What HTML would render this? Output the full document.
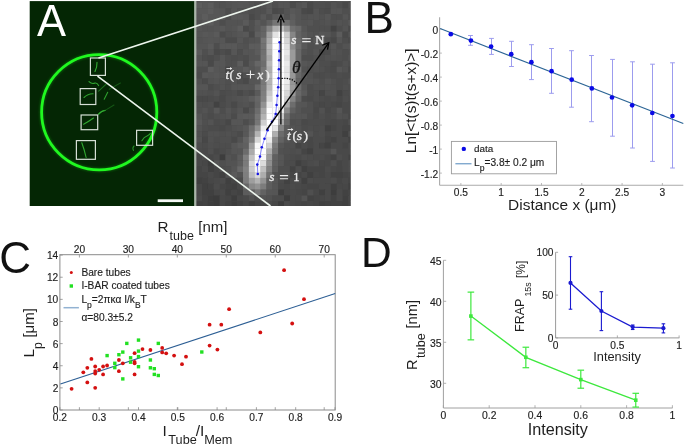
<!DOCTYPE html><html><head><meta charset="utf-8"><style>html,body{margin:0;padding:0;background:#fff;overflow:hidden}svg{display:block;will-change:transform}text{font-family:"Liberation Sans",sans-serif}</style></head><body>
<svg width="685" height="445" viewBox="0 0 685 445">
<defs><filter id="blur2" x="-50%" y="-50%" width="200%" height="200%"><feGaussianBlur stdDeviation="1.2"/></filter><filter id="blur3" x="-50%" y="-50%" width="200%" height="200%"><feGaussianBlur stdDeviation="3"/></filter><filter id="soft" x="0" y="0" width="100%" height="100%"><feGaussianBlur stdDeviation="0.7"/></filter><filter id="blur6" x="-50%" y="-50%" width="200%" height="200%"><feGaussianBlur stdDeviation="6"/></filter></defs>
<rect width="685" height="445" fill="#fff"/>
<rect x="29.7" y="1.1" width="164.8" height="204.9" fill="#042604"/>
<path d="M89,81.6 Q92,84.5 95,83 Q97,82.5 98.6,85.6" stroke="#3cc83c" stroke-width="1.1" fill="none" stroke-linecap="round" opacity="0.8"/>
<path d="M98.6,91.2 L106.2,84.1" stroke="#3cc83c" stroke-width="1.1" fill="none" stroke-linecap="round" opacity="0.45"/>
<path d="M104.2,99.3 L107.7,92.2" stroke="#3cc83c" stroke-width="1.1" fill="none" stroke-linecap="round" opacity="0.75"/>
<path d="M109.2,89.2 L120.4,83.1" stroke="#3cc83c" stroke-width="1.1" fill="none" stroke-linecap="round" opacity="0.3"/>
<path d="M98.6,114.4 Q101,111 105.2,110.4" stroke="#3cc83c" stroke-width="1.1" fill="none" stroke-linecap="round" opacity="0.7"/>
<path d="M105.2,110.4 L114,105" stroke="#3cc83c" stroke-width="1.1" fill="none" stroke-linecap="round" opacity="0.3"/>
<path d="M84,97.5 Q88,93.5 93.1,93.7" stroke="#3cc83c" stroke-width="1.1" fill="none" stroke-linecap="round" opacity="0.75"/>
<path d="M83.6,124.2 Q88,122 93.5,118" stroke="#3cc83c" stroke-width="1.1" fill="none" stroke-linecap="round" opacity="0.8"/>
<path d="M98.5,113.7 L103.4,110.6" stroke="#3cc83c" stroke-width="1.1" fill="none" stroke-linecap="round" opacity="0.5"/>
<path d="M81.8,142.7 Q84.5,150 86.1,157.5" stroke="#3cc83c" stroke-width="1.1" fill="none" stroke-linecap="round" opacity="0.8"/>
<path d="M97,62.4 Q97.2,67 95,71.5" stroke="#3cc83c" stroke-width="1.1" fill="none" stroke-linecap="round" opacity="0.85"/>
<path d="M141.9,140.7 Q144,137 147,136 Q149,135 150.2,133.7" stroke="#3cc83c" stroke-width="1.1" fill="none" stroke-linecap="round" opacity="0.75"/>
<path d="M134,146 Q132,148 133.5,150.5" stroke="#3cc83c" stroke-width="1.1" fill="none" stroke-linecap="round" opacity="0.6"/>
<circle cx="99.2" cy="112.3" r="57.6" stroke="#1aff1a" stroke-width="4.5" fill="none" opacity="0.22" filter="url(#blur2)"/>
<circle cx="99.2" cy="112.3" r="57.6" stroke="#20f820" stroke-width="2.8" fill="none"/>
<rect x="90.4" y="58" width="15" height="17.4" stroke="#d6dfd6" stroke-width="1.2" fill="none"/>
<rect x="80.2" y="88.6" width="15.6" height="15.9" stroke="#d6dfd6" stroke-width="1.2" fill="none"/>
<rect x="81.1" y="115" width="16.6" height="14.7" stroke="#d6dfd6" stroke-width="1.2" fill="none"/>
<rect x="76.4" y="140.6" width="19" height="18.7" stroke="#d6dfd6" stroke-width="1.2" fill="none"/>
<rect x="136.6" y="130.3" width="16" height="15" stroke="#d6dfd6" stroke-width="1.2" fill="none"/>
<rect x="157.7" y="199.3" width="25.3" height="2.8" fill="#f4f8f4"/>
<text x="37.0" y="36.4" font-size="43.5" fill="#ffffff">A</text>
<rect x="194.5" y="1.1" width="1.7" height="204.9" fill="#a9b6a9"/>
<clipPath id="gclip"><rect x="196.2" y="1.1" width="154.6" height="204.9"/></clipPath>
<g clip-path="url(#gclip)" filter="url(#soft)">
<rect x="196.2" y="1.1" width="154.6" height="204.9" fill="#4c4c4c"/>
<rect x="196.20" y="-3.50" width="6.1" height="6.1" fill="rgb(85,85,85)"/>
<rect x="202.05" y="-3.50" width="6.1" height="6.1" fill="rgb(88,88,88)"/>
<rect x="207.90" y="-3.50" width="6.1" height="6.1" fill="rgb(85,85,85)"/>
<rect x="213.75" y="-3.50" width="6.1" height="6.1" fill="rgb(84,84,84)"/>
<rect x="219.60" y="-3.50" width="6.1" height="6.1" fill="rgb(81,81,81)"/>
<rect x="225.45" y="-3.50" width="6.1" height="6.1" fill="rgb(84,84,84)"/>
<rect x="231.30" y="-3.50" width="6.1" height="6.1" fill="rgb(90,90,90)"/>
<rect x="237.15" y="-3.50" width="6.1" height="6.1" fill="rgb(86,86,86)"/>
<rect x="243.00" y="-3.50" width="6.1" height="6.1" fill="rgb(89,89,89)"/>
<rect x="248.85" y="-3.50" width="6.1" height="6.1" fill="rgb(85,85,85)"/>
<rect x="254.70" y="-3.50" width="6.1" height="6.1" fill="rgb(85,85,85)"/>
<rect x="260.55" y="-3.50" width="6.1" height="6.1" fill="rgb(84,84,84)"/>
<rect x="266.40" y="-3.50" width="6.1" height="6.1" fill="rgb(76,76,76)"/>
<rect x="272.25" y="-3.50" width="6.1" height="6.1" fill="rgb(87,87,87)"/>
<rect x="278.10" y="-3.50" width="6.1" height="6.1" fill="rgb(85,85,85)"/>
<rect x="283.95" y="-3.50" width="6.1" height="6.1" fill="rgb(85,85,85)"/>
<rect x="289.80" y="-3.50" width="6.1" height="6.1" fill="rgb(75,75,75)"/>
<rect x="295.65" y="-3.50" width="6.1" height="6.1" fill="rgb(74,74,74)"/>
<rect x="301.50" y="-3.50" width="6.1" height="6.1" fill="rgb(78,78,78)"/>
<rect x="307.35" y="-3.50" width="6.1" height="6.1" fill="rgb(80,80,80)"/>
<rect x="313.20" y="-3.50" width="6.1" height="6.1" fill="rgb(83,83,83)"/>
<rect x="319.05" y="-3.50" width="6.1" height="6.1" fill="rgb(81,81,81)"/>
<rect x="324.90" y="-3.50" width="6.1" height="6.1" fill="rgb(83,83,83)"/>
<rect x="330.75" y="-3.50" width="6.1" height="6.1" fill="rgb(78,78,78)"/>
<rect x="336.60" y="-3.50" width="6.1" height="6.1" fill="rgb(82,82,82)"/>
<rect x="342.45" y="-3.50" width="6.1" height="6.1" fill="rgb(82,82,82)"/>
<rect x="348.30" y="-3.50" width="6.1" height="6.1" fill="rgb(77,77,77)"/>
<rect x="196.20" y="2.35" width="6.1" height="6.1" fill="rgb(93,93,93)"/>
<rect x="202.05" y="2.35" width="6.1" height="6.1" fill="rgb(88,88,88)"/>
<rect x="207.90" y="2.35" width="6.1" height="6.1" fill="rgb(91,91,91)"/>
<rect x="213.75" y="2.35" width="6.1" height="6.1" fill="rgb(82,82,82)"/>
<rect x="219.60" y="2.35" width="6.1" height="6.1" fill="rgb(81,81,81)"/>
<rect x="225.45" y="2.35" width="6.1" height="6.1" fill="rgb(83,83,83)"/>
<rect x="231.30" y="2.35" width="6.1" height="6.1" fill="rgb(84,84,84)"/>
<rect x="237.15" y="2.35" width="6.1" height="6.1" fill="rgb(87,87,87)"/>
<rect x="243.00" y="2.35" width="6.1" height="6.1" fill="rgb(85,85,85)"/>
<rect x="248.85" y="2.35" width="6.1" height="6.1" fill="rgb(82,82,82)"/>
<rect x="254.70" y="2.35" width="6.1" height="6.1" fill="rgb(79,79,79)"/>
<rect x="260.55" y="2.35" width="6.1" height="6.1" fill="rgb(81,81,81)"/>
<rect x="266.40" y="2.35" width="6.1" height="6.1" fill="rgb(88,88,88)"/>
<rect x="272.25" y="2.35" width="6.1" height="6.1" fill="rgb(79,79,79)"/>
<rect x="278.10" y="2.35" width="6.1" height="6.1" fill="rgb(84,84,84)"/>
<rect x="283.95" y="2.35" width="6.1" height="6.1" fill="rgb(84,84,84)"/>
<rect x="289.80" y="2.35" width="6.1" height="6.1" fill="rgb(75,75,75)"/>
<rect x="295.65" y="2.35" width="6.1" height="6.1" fill="rgb(82,82,82)"/>
<rect x="301.50" y="2.35" width="6.1" height="6.1" fill="rgb(87,87,87)"/>
<rect x="307.35" y="2.35" width="6.1" height="6.1" fill="rgb(72,72,72)"/>
<rect x="313.20" y="2.35" width="6.1" height="6.1" fill="rgb(80,80,80)"/>
<rect x="319.05" y="2.35" width="6.1" height="6.1" fill="rgb(80,80,80)"/>
<rect x="324.90" y="2.35" width="6.1" height="6.1" fill="rgb(77,77,77)"/>
<rect x="330.75" y="2.35" width="6.1" height="6.1" fill="rgb(83,83,83)"/>
<rect x="336.60" y="2.35" width="6.1" height="6.1" fill="rgb(80,80,80)"/>
<rect x="342.45" y="2.35" width="6.1" height="6.1" fill="rgb(73,73,73)"/>
<rect x="348.30" y="2.35" width="6.1" height="6.1" fill="rgb(83,83,83)"/>
<rect x="196.20" y="8.20" width="6.1" height="6.1" fill="rgb(88,88,88)"/>
<rect x="202.05" y="8.20" width="6.1" height="6.1" fill="rgb(89,89,89)"/>
<rect x="207.90" y="8.20" width="6.1" height="6.1" fill="rgb(91,91,91)"/>
<rect x="213.75" y="8.20" width="6.1" height="6.1" fill="rgb(86,86,86)"/>
<rect x="219.60" y="8.20" width="6.1" height="6.1" fill="rgb(85,85,85)"/>
<rect x="225.45" y="8.20" width="6.1" height="6.1" fill="rgb(78,78,78)"/>
<rect x="231.30" y="8.20" width="6.1" height="6.1" fill="rgb(87,87,87)"/>
<rect x="237.15" y="8.20" width="6.1" height="6.1" fill="rgb(81,81,81)"/>
<rect x="243.00" y="8.20" width="6.1" height="6.1" fill="rgb(81,81,81)"/>
<rect x="248.85" y="8.20" width="6.1" height="6.1" fill="rgb(78,78,78)"/>
<rect x="254.70" y="8.20" width="6.1" height="6.1" fill="rgb(79,79,79)"/>
<rect x="260.55" y="8.20" width="6.1" height="6.1" fill="rgb(80,80,80)"/>
<rect x="266.40" y="8.20" width="6.1" height="6.1" fill="rgb(88,88,88)"/>
<rect x="272.25" y="8.20" width="6.1" height="6.1" fill="rgb(73,73,73)"/>
<rect x="278.10" y="8.20" width="6.1" height="6.1" fill="rgb(76,76,76)"/>
<rect x="283.95" y="8.20" width="6.1" height="6.1" fill="rgb(83,83,83)"/>
<rect x="289.80" y="8.20" width="6.1" height="6.1" fill="rgb(88,88,88)"/>
<rect x="295.65" y="8.20" width="6.1" height="6.1" fill="rgb(84,84,84)"/>
<rect x="301.50" y="8.20" width="6.1" height="6.1" fill="rgb(73,73,73)"/>
<rect x="307.35" y="8.20" width="6.1" height="6.1" fill="rgb(70,70,70)"/>
<rect x="313.20" y="8.20" width="6.1" height="6.1" fill="rgb(82,82,82)"/>
<rect x="319.05" y="8.20" width="6.1" height="6.1" fill="rgb(77,77,77)"/>
<rect x="324.90" y="8.20" width="6.1" height="6.1" fill="rgb(75,75,75)"/>
<rect x="330.75" y="8.20" width="6.1" height="6.1" fill="rgb(84,84,84)"/>
<rect x="336.60" y="8.20" width="6.1" height="6.1" fill="rgb(85,85,85)"/>
<rect x="342.45" y="8.20" width="6.1" height="6.1" fill="rgb(80,80,80)"/>
<rect x="348.30" y="8.20" width="6.1" height="6.1" fill="rgb(81,81,81)"/>
<rect x="196.20" y="14.05" width="6.1" height="6.1" fill="rgb(87,87,87)"/>
<rect x="202.05" y="14.05" width="6.1" height="6.1" fill="rgb(92,92,92)"/>
<rect x="207.90" y="14.05" width="6.1" height="6.1" fill="rgb(87,87,87)"/>
<rect x="213.75" y="14.05" width="6.1" height="6.1" fill="rgb(87,87,87)"/>
<rect x="219.60" y="14.05" width="6.1" height="6.1" fill="rgb(87,87,87)"/>
<rect x="225.45" y="14.05" width="6.1" height="6.1" fill="rgb(77,77,77)"/>
<rect x="231.30" y="14.05" width="6.1" height="6.1" fill="rgb(89,89,89)"/>
<rect x="237.15" y="14.05" width="6.1" height="6.1" fill="rgb(88,88,88)"/>
<rect x="243.00" y="14.05" width="6.1" height="6.1" fill="rgb(86,86,86)"/>
<rect x="248.85" y="14.05" width="6.1" height="6.1" fill="rgb(74,74,74)"/>
<rect x="254.70" y="14.05" width="6.1" height="6.1" fill="rgb(80,80,80)"/>
<rect x="260.55" y="14.05" width="6.1" height="6.1" fill="rgb(88,88,88)"/>
<rect x="266.40" y="14.05" width="6.1" height="6.1" fill="rgb(79,79,79)"/>
<rect x="272.25" y="14.05" width="6.1" height="6.1" fill="rgb(90,90,90)"/>
<rect x="278.10" y="14.05" width="6.1" height="6.1" fill="rgb(96,96,96)"/>
<rect x="283.95" y="14.05" width="6.1" height="6.1" fill="rgb(82,82,82)"/>
<rect x="289.80" y="14.05" width="6.1" height="6.1" fill="rgb(92,92,92)"/>
<rect x="295.65" y="14.05" width="6.1" height="6.1" fill="rgb(85,85,85)"/>
<rect x="301.50" y="14.05" width="6.1" height="6.1" fill="rgb(81,81,81)"/>
<rect x="307.35" y="14.05" width="6.1" height="6.1" fill="rgb(82,82,82)"/>
<rect x="313.20" y="14.05" width="6.1" height="6.1" fill="rgb(83,83,83)"/>
<rect x="319.05" y="14.05" width="6.1" height="6.1" fill="rgb(81,81,81)"/>
<rect x="324.90" y="14.05" width="6.1" height="6.1" fill="rgb(85,85,85)"/>
<rect x="330.75" y="14.05" width="6.1" height="6.1" fill="rgb(77,77,77)"/>
<rect x="336.60" y="14.05" width="6.1" height="6.1" fill="rgb(78,78,78)"/>
<rect x="342.45" y="14.05" width="6.1" height="6.1" fill="rgb(84,84,84)"/>
<rect x="348.30" y="14.05" width="6.1" height="6.1" fill="rgb(79,79,79)"/>
<rect x="196.20" y="19.90" width="6.1" height="6.1" fill="rgb(81,81,81)"/>
<rect x="202.05" y="19.90" width="6.1" height="6.1" fill="rgb(89,89,89)"/>
<rect x="207.90" y="19.90" width="6.1" height="6.1" fill="rgb(91,91,91)"/>
<rect x="213.75" y="19.90" width="6.1" height="6.1" fill="rgb(82,82,82)"/>
<rect x="219.60" y="19.90" width="6.1" height="6.1" fill="rgb(78,78,78)"/>
<rect x="225.45" y="19.90" width="6.1" height="6.1" fill="rgb(83,83,83)"/>
<rect x="231.30" y="19.90" width="6.1" height="6.1" fill="rgb(83,83,83)"/>
<rect x="237.15" y="19.90" width="6.1" height="6.1" fill="rgb(82,82,82)"/>
<rect x="243.00" y="19.90" width="6.1" height="6.1" fill="rgb(90,90,90)"/>
<rect x="248.85" y="19.90" width="6.1" height="6.1" fill="rgb(79,79,79)"/>
<rect x="254.70" y="19.90" width="6.1" height="6.1" fill="rgb(90,90,90)"/>
<rect x="260.55" y="19.90" width="6.1" height="6.1" fill="rgb(82,82,82)"/>
<rect x="266.40" y="19.90" width="6.1" height="6.1" fill="rgb(95,95,95)"/>
<rect x="272.25" y="19.90" width="6.1" height="6.1" fill="rgb(117,117,117)"/>
<rect x="278.10" y="19.90" width="6.1" height="6.1" fill="rgb(123,123,123)"/>
<rect x="283.95" y="19.90" width="6.1" height="6.1" fill="rgb(110,110,110)"/>
<rect x="289.80" y="19.90" width="6.1" height="6.1" fill="rgb(94,94,94)"/>
<rect x="295.65" y="19.90" width="6.1" height="6.1" fill="rgb(85,85,85)"/>
<rect x="301.50" y="19.90" width="6.1" height="6.1" fill="rgb(83,83,83)"/>
<rect x="307.35" y="19.90" width="6.1" height="6.1" fill="rgb(84,84,84)"/>
<rect x="313.20" y="19.90" width="6.1" height="6.1" fill="rgb(80,80,80)"/>
<rect x="319.05" y="19.90" width="6.1" height="6.1" fill="rgb(81,81,81)"/>
<rect x="324.90" y="19.90" width="6.1" height="6.1" fill="rgb(82,82,82)"/>
<rect x="330.75" y="19.90" width="6.1" height="6.1" fill="rgb(79,79,79)"/>
<rect x="336.60" y="19.90" width="6.1" height="6.1" fill="rgb(83,83,83)"/>
<rect x="342.45" y="19.90" width="6.1" height="6.1" fill="rgb(81,81,81)"/>
<rect x="348.30" y="19.90" width="6.1" height="6.1" fill="rgb(88,88,88)"/>
<rect x="196.20" y="25.75" width="6.1" height="6.1" fill="rgb(86,86,86)"/>
<rect x="202.05" y="25.75" width="6.1" height="6.1" fill="rgb(82,82,82)"/>
<rect x="207.90" y="25.75" width="6.1" height="6.1" fill="rgb(82,82,82)"/>
<rect x="213.75" y="25.75" width="6.1" height="6.1" fill="rgb(84,84,84)"/>
<rect x="219.60" y="25.75" width="6.1" height="6.1" fill="rgb(88,88,88)"/>
<rect x="225.45" y="25.75" width="6.1" height="6.1" fill="rgb(82,82,82)"/>
<rect x="231.30" y="25.75" width="6.1" height="6.1" fill="rgb(85,85,85)"/>
<rect x="237.15" y="25.75" width="6.1" height="6.1" fill="rgb(92,92,92)"/>
<rect x="243.00" y="25.75" width="6.1" height="6.1" fill="rgb(72,72,72)"/>
<rect x="248.85" y="25.75" width="6.1" height="6.1" fill="rgb(80,80,80)"/>
<rect x="254.70" y="25.75" width="6.1" height="6.1" fill="rgb(89,89,89)"/>
<rect x="260.55" y="25.75" width="6.1" height="6.1" fill="rgb(100,100,100)"/>
<rect x="266.40" y="25.75" width="6.1" height="6.1" fill="rgb(132,132,132)"/>
<rect x="272.25" y="25.75" width="6.1" height="6.1" fill="rgb(176,176,176)"/>
<rect x="278.10" y="25.75" width="6.1" height="6.1" fill="rgb(191,191,191)"/>
<rect x="283.95" y="25.75" width="6.1" height="6.1" fill="rgb(156,156,156)"/>
<rect x="289.80" y="25.75" width="6.1" height="6.1" fill="rgb(112,112,112)"/>
<rect x="295.65" y="25.75" width="6.1" height="6.1" fill="rgb(103,103,103)"/>
<rect x="301.50" y="25.75" width="6.1" height="6.1" fill="rgb(86,86,86)"/>
<rect x="307.35" y="25.75" width="6.1" height="6.1" fill="rgb(79,79,79)"/>
<rect x="313.20" y="25.75" width="6.1" height="6.1" fill="rgb(80,80,80)"/>
<rect x="319.05" y="25.75" width="6.1" height="6.1" fill="rgb(79,79,79)"/>
<rect x="324.90" y="25.75" width="6.1" height="6.1" fill="rgb(79,79,79)"/>
<rect x="330.75" y="25.75" width="6.1" height="6.1" fill="rgb(67,67,67)"/>
<rect x="336.60" y="25.75" width="6.1" height="6.1" fill="rgb(77,77,77)"/>
<rect x="342.45" y="25.75" width="6.1" height="6.1" fill="rgb(83,83,83)"/>
<rect x="348.30" y="25.75" width="6.1" height="6.1" fill="rgb(73,73,73)"/>
<rect x="196.20" y="31.60" width="6.1" height="6.1" fill="rgb(84,84,84)"/>
<rect x="202.05" y="31.60" width="6.1" height="6.1" fill="rgb(88,88,88)"/>
<rect x="207.90" y="31.60" width="6.1" height="6.1" fill="rgb(87,87,87)"/>
<rect x="213.75" y="31.60" width="6.1" height="6.1" fill="rgb(90,90,90)"/>
<rect x="219.60" y="31.60" width="6.1" height="6.1" fill="rgb(75,75,75)"/>
<rect x="225.45" y="31.60" width="6.1" height="6.1" fill="rgb(81,81,81)"/>
<rect x="231.30" y="31.60" width="6.1" height="6.1" fill="rgb(82,82,82)"/>
<rect x="237.15" y="31.60" width="6.1" height="6.1" fill="rgb(86,86,86)"/>
<rect x="243.00" y="31.60" width="6.1" height="6.1" fill="rgb(89,89,89)"/>
<rect x="248.85" y="31.60" width="6.1" height="6.1" fill="rgb(74,74,74)"/>
<rect x="254.70" y="31.60" width="6.1" height="6.1" fill="rgb(95,95,95)"/>
<rect x="260.55" y="31.60" width="6.1" height="6.1" fill="rgb(101,101,101)"/>
<rect x="266.40" y="31.60" width="6.1" height="6.1" fill="rgb(162,162,162)"/>
<rect x="272.25" y="31.60" width="6.1" height="6.1" fill="rgb(227,227,227)"/>
<rect x="278.10" y="31.60" width="6.1" height="6.1" fill="rgb(250,250,250)"/>
<rect x="283.95" y="31.60" width="6.1" height="6.1" fill="rgb(203,203,203)"/>
<rect x="289.80" y="31.60" width="6.1" height="6.1" fill="rgb(134,134,134)"/>
<rect x="295.65" y="31.60" width="6.1" height="6.1" fill="rgb(100,100,100)"/>
<rect x="301.50" y="31.60" width="6.1" height="6.1" fill="rgb(90,90,90)"/>
<rect x="307.35" y="31.60" width="6.1" height="6.1" fill="rgb(83,83,83)"/>
<rect x="313.20" y="31.60" width="6.1" height="6.1" fill="rgb(81,81,81)"/>
<rect x="319.05" y="31.60" width="6.1" height="6.1" fill="rgb(87,87,87)"/>
<rect x="324.90" y="31.60" width="6.1" height="6.1" fill="rgb(84,84,84)"/>
<rect x="330.75" y="31.60" width="6.1" height="6.1" fill="rgb(78,78,78)"/>
<rect x="336.60" y="31.60" width="6.1" height="6.1" fill="rgb(91,91,91)"/>
<rect x="342.45" y="31.60" width="6.1" height="6.1" fill="rgb(73,73,73)"/>
<rect x="348.30" y="31.60" width="6.1" height="6.1" fill="rgb(82,82,82)"/>
<rect x="196.20" y="37.45" width="6.1" height="6.1" fill="rgb(82,82,82)"/>
<rect x="202.05" y="37.45" width="6.1" height="6.1" fill="rgb(84,84,84)"/>
<rect x="207.90" y="37.45" width="6.1" height="6.1" fill="rgb(86,86,86)"/>
<rect x="213.75" y="37.45" width="6.1" height="6.1" fill="rgb(84,84,84)"/>
<rect x="219.60" y="37.45" width="6.1" height="6.1" fill="rgb(86,86,86)"/>
<rect x="225.45" y="37.45" width="6.1" height="6.1" fill="rgb(76,76,76)"/>
<rect x="231.30" y="37.45" width="6.1" height="6.1" fill="rgb(76,76,76)"/>
<rect x="237.15" y="37.45" width="6.1" height="6.1" fill="rgb(86,86,86)"/>
<rect x="243.00" y="37.45" width="6.1" height="6.1" fill="rgb(80,80,80)"/>
<rect x="248.85" y="37.45" width="6.1" height="6.1" fill="rgb(82,82,82)"/>
<rect x="254.70" y="37.45" width="6.1" height="6.1" fill="rgb(85,85,85)"/>
<rect x="260.55" y="37.45" width="6.1" height="6.1" fill="rgb(116,116,116)"/>
<rect x="266.40" y="37.45" width="6.1" height="6.1" fill="rgb(173,173,173)"/>
<rect x="272.25" y="37.45" width="6.1" height="6.1" fill="rgb(255,255,255)"/>
<rect x="278.10" y="37.45" width="6.1" height="6.1" fill="rgb(255,255,255)"/>
<rect x="283.95" y="37.45" width="6.1" height="6.1" fill="rgb(214,214,214)"/>
<rect x="289.80" y="37.45" width="6.1" height="6.1" fill="rgb(137,137,137)"/>
<rect x="295.65" y="37.45" width="6.1" height="6.1" fill="rgb(105,105,105)"/>
<rect x="301.50" y="37.45" width="6.1" height="6.1" fill="rgb(94,94,94)"/>
<rect x="307.35" y="37.45" width="6.1" height="6.1" fill="rgb(79,79,79)"/>
<rect x="313.20" y="37.45" width="6.1" height="6.1" fill="rgb(88,88,88)"/>
<rect x="319.05" y="37.45" width="6.1" height="6.1" fill="rgb(84,84,84)"/>
<rect x="324.90" y="37.45" width="6.1" height="6.1" fill="rgb(78,78,78)"/>
<rect x="330.75" y="37.45" width="6.1" height="6.1" fill="rgb(70,70,70)"/>
<rect x="336.60" y="37.45" width="6.1" height="6.1" fill="rgb(85,85,85)"/>
<rect x="342.45" y="37.45" width="6.1" height="6.1" fill="rgb(77,77,77)"/>
<rect x="348.30" y="37.45" width="6.1" height="6.1" fill="rgb(75,75,75)"/>
<rect x="196.20" y="43.30" width="6.1" height="6.1" fill="rgb(85,85,85)"/>
<rect x="202.05" y="43.30" width="6.1" height="6.1" fill="rgb(85,85,85)"/>
<rect x="207.90" y="43.30" width="6.1" height="6.1" fill="rgb(90,90,90)"/>
<rect x="213.75" y="43.30" width="6.1" height="6.1" fill="rgb(78,78,78)"/>
<rect x="219.60" y="43.30" width="6.1" height="6.1" fill="rgb(88,88,88)"/>
<rect x="225.45" y="43.30" width="6.1" height="6.1" fill="rgb(89,89,89)"/>
<rect x="231.30" y="43.30" width="6.1" height="6.1" fill="rgb(89,89,89)"/>
<rect x="237.15" y="43.30" width="6.1" height="6.1" fill="rgb(82,82,82)"/>
<rect x="243.00" y="43.30" width="6.1" height="6.1" fill="rgb(81,81,81)"/>
<rect x="248.85" y="43.30" width="6.1" height="6.1" fill="rgb(91,91,91)"/>
<rect x="254.70" y="43.30" width="6.1" height="6.1" fill="rgb(92,92,92)"/>
<rect x="260.55" y="43.30" width="6.1" height="6.1" fill="rgb(114,114,114)"/>
<rect x="266.40" y="43.30" width="6.1" height="6.1" fill="rgb(185,185,185)"/>
<rect x="272.25" y="43.30" width="6.1" height="6.1" fill="rgb(255,255,255)"/>
<rect x="278.10" y="43.30" width="6.1" height="6.1" fill="rgb(255,255,255)"/>
<rect x="283.95" y="43.30" width="6.1" height="6.1" fill="rgb(225,225,225)"/>
<rect x="289.80" y="43.30" width="6.1" height="6.1" fill="rgb(141,141,141)"/>
<rect x="295.65" y="43.30" width="6.1" height="6.1" fill="rgb(108,108,108)"/>
<rect x="301.50" y="43.30" width="6.1" height="6.1" fill="rgb(89,89,89)"/>
<rect x="307.35" y="43.30" width="6.1" height="6.1" fill="rgb(80,80,80)"/>
<rect x="313.20" y="43.30" width="6.1" height="6.1" fill="rgb(81,81,81)"/>
<rect x="319.05" y="43.30" width="6.1" height="6.1" fill="rgb(83,83,83)"/>
<rect x="324.90" y="43.30" width="6.1" height="6.1" fill="rgb(79,79,79)"/>
<rect x="330.75" y="43.30" width="6.1" height="6.1" fill="rgb(84,84,84)"/>
<rect x="336.60" y="43.30" width="6.1" height="6.1" fill="rgb(78,78,78)"/>
<rect x="342.45" y="43.30" width="6.1" height="6.1" fill="rgb(82,82,82)"/>
<rect x="348.30" y="43.30" width="6.1" height="6.1" fill="rgb(84,84,84)"/>
<rect x="196.20" y="49.15" width="6.1" height="6.1" fill="rgb(90,90,90)"/>
<rect x="202.05" y="49.15" width="6.1" height="6.1" fill="rgb(80,80,80)"/>
<rect x="207.90" y="49.15" width="6.1" height="6.1" fill="rgb(86,86,86)"/>
<rect x="213.75" y="49.15" width="6.1" height="6.1" fill="rgb(74,74,74)"/>
<rect x="219.60" y="49.15" width="6.1" height="6.1" fill="rgb(77,77,77)"/>
<rect x="225.45" y="49.15" width="6.1" height="6.1" fill="rgb(73,73,73)"/>
<rect x="231.30" y="49.15" width="6.1" height="6.1" fill="rgb(87,87,87)"/>
<rect x="237.15" y="49.15" width="6.1" height="6.1" fill="rgb(77,77,77)"/>
<rect x="243.00" y="49.15" width="6.1" height="6.1" fill="rgb(84,84,84)"/>
<rect x="248.85" y="49.15" width="6.1" height="6.1" fill="rgb(85,85,85)"/>
<rect x="254.70" y="49.15" width="6.1" height="6.1" fill="rgb(92,92,92)"/>
<rect x="260.55" y="49.15" width="6.1" height="6.1" fill="rgb(111,111,111)"/>
<rect x="266.40" y="49.15" width="6.1" height="6.1" fill="rgb(181,181,181)"/>
<rect x="272.25" y="49.15" width="6.1" height="6.1" fill="rgb(255,255,255)"/>
<rect x="278.10" y="49.15" width="6.1" height="6.1" fill="rgb(255,255,255)"/>
<rect x="283.95" y="49.15" width="6.1" height="6.1" fill="rgb(231,231,231)"/>
<rect x="289.80" y="49.15" width="6.1" height="6.1" fill="rgb(155,155,155)"/>
<rect x="295.65" y="49.15" width="6.1" height="6.1" fill="rgb(104,104,104)"/>
<rect x="301.50" y="49.15" width="6.1" height="6.1" fill="rgb(82,82,82)"/>
<rect x="307.35" y="49.15" width="6.1" height="6.1" fill="rgb(80,80,80)"/>
<rect x="313.20" y="49.15" width="6.1" height="6.1" fill="rgb(85,85,85)"/>
<rect x="319.05" y="49.15" width="6.1" height="6.1" fill="rgb(72,72,72)"/>
<rect x="324.90" y="49.15" width="6.1" height="6.1" fill="rgb(76,76,76)"/>
<rect x="330.75" y="49.15" width="6.1" height="6.1" fill="rgb(82,82,82)"/>
<rect x="336.60" y="49.15" width="6.1" height="6.1" fill="rgb(81,81,81)"/>
<rect x="342.45" y="49.15" width="6.1" height="6.1" fill="rgb(77,77,77)"/>
<rect x="348.30" y="49.15" width="6.1" height="6.1" fill="rgb(81,81,81)"/>
<rect x="196.20" y="55.00" width="6.1" height="6.1" fill="rgb(83,83,83)"/>
<rect x="202.05" y="55.00" width="6.1" height="6.1" fill="rgb(77,77,77)"/>
<rect x="207.90" y="55.00" width="6.1" height="6.1" fill="rgb(75,75,75)"/>
<rect x="213.75" y="55.00" width="6.1" height="6.1" fill="rgb(79,79,79)"/>
<rect x="219.60" y="55.00" width="6.1" height="6.1" fill="rgb(86,86,86)"/>
<rect x="225.45" y="55.00" width="6.1" height="6.1" fill="rgb(79,79,79)"/>
<rect x="231.30" y="55.00" width="6.1" height="6.1" fill="rgb(78,78,78)"/>
<rect x="237.15" y="55.00" width="6.1" height="6.1" fill="rgb(79,79,79)"/>
<rect x="243.00" y="55.00" width="6.1" height="6.1" fill="rgb(77,77,77)"/>
<rect x="248.85" y="55.00" width="6.1" height="6.1" fill="rgb(85,85,85)"/>
<rect x="254.70" y="55.00" width="6.1" height="6.1" fill="rgb(86,86,86)"/>
<rect x="260.55" y="55.00" width="6.1" height="6.1" fill="rgb(115,115,115)"/>
<rect x="266.40" y="55.00" width="6.1" height="6.1" fill="rgb(170,170,170)"/>
<rect x="272.25" y="55.00" width="6.1" height="6.1" fill="rgb(255,255,255)"/>
<rect x="278.10" y="55.00" width="6.1" height="6.1" fill="rgb(255,255,255)"/>
<rect x="283.95" y="55.00" width="6.1" height="6.1" fill="rgb(222,222,222)"/>
<rect x="289.80" y="55.00" width="6.1" height="6.1" fill="rgb(155,155,155)"/>
<rect x="295.65" y="55.00" width="6.1" height="6.1" fill="rgb(104,104,104)"/>
<rect x="301.50" y="55.00" width="6.1" height="6.1" fill="rgb(78,78,78)"/>
<rect x="307.35" y="55.00" width="6.1" height="6.1" fill="rgb(78,78,78)"/>
<rect x="313.20" y="55.00" width="6.1" height="6.1" fill="rgb(81,81,81)"/>
<rect x="319.05" y="55.00" width="6.1" height="6.1" fill="rgb(77,77,77)"/>
<rect x="324.90" y="55.00" width="6.1" height="6.1" fill="rgb(81,81,81)"/>
<rect x="330.75" y="55.00" width="6.1" height="6.1" fill="rgb(81,81,81)"/>
<rect x="336.60" y="55.00" width="6.1" height="6.1" fill="rgb(80,80,80)"/>
<rect x="342.45" y="55.00" width="6.1" height="6.1" fill="rgb(78,78,78)"/>
<rect x="348.30" y="55.00" width="6.1" height="6.1" fill="rgb(83,83,83)"/>
<rect x="196.20" y="60.85" width="6.1" height="6.1" fill="rgb(85,85,85)"/>
<rect x="202.05" y="60.85" width="6.1" height="6.1" fill="rgb(84,84,84)"/>
<rect x="207.90" y="60.85" width="6.1" height="6.1" fill="rgb(72,72,72)"/>
<rect x="213.75" y="60.85" width="6.1" height="6.1" fill="rgb(86,86,86)"/>
<rect x="219.60" y="60.85" width="6.1" height="6.1" fill="rgb(87,87,87)"/>
<rect x="225.45" y="60.85" width="6.1" height="6.1" fill="rgb(80,80,80)"/>
<rect x="231.30" y="60.85" width="6.1" height="6.1" fill="rgb(79,79,79)"/>
<rect x="237.15" y="60.85" width="6.1" height="6.1" fill="rgb(91,91,91)"/>
<rect x="243.00" y="60.85" width="6.1" height="6.1" fill="rgb(76,76,76)"/>
<rect x="248.85" y="60.85" width="6.1" height="6.1" fill="rgb(88,88,88)"/>
<rect x="254.70" y="60.85" width="6.1" height="6.1" fill="rgb(102,102,102)"/>
<rect x="260.55" y="60.85" width="6.1" height="6.1" fill="rgb(110,110,110)"/>
<rect x="266.40" y="60.85" width="6.1" height="6.1" fill="rgb(185,185,185)"/>
<rect x="272.25" y="60.85" width="6.1" height="6.1" fill="rgb(255,255,255)"/>
<rect x="278.10" y="60.85" width="6.1" height="6.1" fill="rgb(255,255,255)"/>
<rect x="283.95" y="60.85" width="6.1" height="6.1" fill="rgb(234,234,234)"/>
<rect x="289.80" y="60.85" width="6.1" height="6.1" fill="rgb(156,156,156)"/>
<rect x="295.65" y="60.85" width="6.1" height="6.1" fill="rgb(101,101,101)"/>
<rect x="301.50" y="60.85" width="6.1" height="6.1" fill="rgb(87,87,87)"/>
<rect x="307.35" y="60.85" width="6.1" height="6.1" fill="rgb(83,83,83)"/>
<rect x="313.20" y="60.85" width="6.1" height="6.1" fill="rgb(83,83,83)"/>
<rect x="319.05" y="60.85" width="6.1" height="6.1" fill="rgb(78,78,78)"/>
<rect x="324.90" y="60.85" width="6.1" height="6.1" fill="rgb(77,77,77)"/>
<rect x="330.75" y="60.85" width="6.1" height="6.1" fill="rgb(73,73,73)"/>
<rect x="336.60" y="60.85" width="6.1" height="6.1" fill="rgb(75,75,75)"/>
<rect x="342.45" y="60.85" width="6.1" height="6.1" fill="rgb(81,81,81)"/>
<rect x="348.30" y="60.85" width="6.1" height="6.1" fill="rgb(77,77,77)"/>
<rect x="196.20" y="66.70" width="6.1" height="6.1" fill="rgb(78,78,78)"/>
<rect x="202.05" y="66.70" width="6.1" height="6.1" fill="rgb(78,78,78)"/>
<rect x="207.90" y="66.70" width="6.1" height="6.1" fill="rgb(93,93,93)"/>
<rect x="213.75" y="66.70" width="6.1" height="6.1" fill="rgb(86,86,86)"/>
<rect x="219.60" y="66.70" width="6.1" height="6.1" fill="rgb(84,84,84)"/>
<rect x="225.45" y="66.70" width="6.1" height="6.1" fill="rgb(69,69,69)"/>
<rect x="231.30" y="66.70" width="6.1" height="6.1" fill="rgb(84,84,84)"/>
<rect x="237.15" y="66.70" width="6.1" height="6.1" fill="rgb(84,84,84)"/>
<rect x="243.00" y="66.70" width="6.1" height="6.1" fill="rgb(91,91,91)"/>
<rect x="248.85" y="66.70" width="6.1" height="6.1" fill="rgb(87,87,87)"/>
<rect x="254.70" y="66.70" width="6.1" height="6.1" fill="rgb(91,91,91)"/>
<rect x="260.55" y="66.70" width="6.1" height="6.1" fill="rgb(118,118,118)"/>
<rect x="266.40" y="66.70" width="6.1" height="6.1" fill="rgb(175,175,175)"/>
<rect x="272.25" y="66.70" width="6.1" height="6.1" fill="rgb(255,255,255)"/>
<rect x="278.10" y="66.70" width="6.1" height="6.1" fill="rgb(255,255,255)"/>
<rect x="283.95" y="66.70" width="6.1" height="6.1" fill="rgb(228,228,228)"/>
<rect x="289.80" y="66.70" width="6.1" height="6.1" fill="rgb(157,157,157)"/>
<rect x="295.65" y="66.70" width="6.1" height="6.1" fill="rgb(113,113,113)"/>
<rect x="301.50" y="66.70" width="6.1" height="6.1" fill="rgb(81,81,81)"/>
<rect x="307.35" y="66.70" width="6.1" height="6.1" fill="rgb(79,79,79)"/>
<rect x="313.20" y="66.70" width="6.1" height="6.1" fill="rgb(81,81,81)"/>
<rect x="319.05" y="66.70" width="6.1" height="6.1" fill="rgb(79,79,79)"/>
<rect x="324.90" y="66.70" width="6.1" height="6.1" fill="rgb(75,75,75)"/>
<rect x="330.75" y="66.70" width="6.1" height="6.1" fill="rgb(72,72,72)"/>
<rect x="336.60" y="66.70" width="6.1" height="6.1" fill="rgb(86,86,86)"/>
<rect x="342.45" y="66.70" width="6.1" height="6.1" fill="rgb(81,81,81)"/>
<rect x="348.30" y="66.70" width="6.1" height="6.1" fill="rgb(71,71,71)"/>
<rect x="196.20" y="72.55" width="6.1" height="6.1" fill="rgb(75,75,75)"/>
<rect x="202.05" y="72.55" width="6.1" height="6.1" fill="rgb(89,89,89)"/>
<rect x="207.90" y="72.55" width="6.1" height="6.1" fill="rgb(86,86,86)"/>
<rect x="213.75" y="72.55" width="6.1" height="6.1" fill="rgb(89,89,89)"/>
<rect x="219.60" y="72.55" width="6.1" height="6.1" fill="rgb(84,84,84)"/>
<rect x="225.45" y="72.55" width="6.1" height="6.1" fill="rgb(77,77,77)"/>
<rect x="231.30" y="72.55" width="6.1" height="6.1" fill="rgb(82,82,82)"/>
<rect x="237.15" y="72.55" width="6.1" height="6.1" fill="rgb(72,72,72)"/>
<rect x="243.00" y="72.55" width="6.1" height="6.1" fill="rgb(79,79,79)"/>
<rect x="248.85" y="72.55" width="6.1" height="6.1" fill="rgb(85,85,85)"/>
<rect x="254.70" y="72.55" width="6.1" height="6.1" fill="rgb(94,94,94)"/>
<rect x="260.55" y="72.55" width="6.1" height="6.1" fill="rgb(113,113,113)"/>
<rect x="266.40" y="72.55" width="6.1" height="6.1" fill="rgb(184,184,184)"/>
<rect x="272.25" y="72.55" width="6.1" height="6.1" fill="rgb(255,255,255)"/>
<rect x="278.10" y="72.55" width="6.1" height="6.1" fill="rgb(255,255,255)"/>
<rect x="283.95" y="72.55" width="6.1" height="6.1" fill="rgb(233,233,233)"/>
<rect x="289.80" y="72.55" width="6.1" height="6.1" fill="rgb(152,152,152)"/>
<rect x="295.65" y="72.55" width="6.1" height="6.1" fill="rgb(103,103,103)"/>
<rect x="301.50" y="72.55" width="6.1" height="6.1" fill="rgb(90,90,90)"/>
<rect x="307.35" y="72.55" width="6.1" height="6.1" fill="rgb(81,81,81)"/>
<rect x="313.20" y="72.55" width="6.1" height="6.1" fill="rgb(75,75,75)"/>
<rect x="319.05" y="72.55" width="6.1" height="6.1" fill="rgb(75,75,75)"/>
<rect x="324.90" y="72.55" width="6.1" height="6.1" fill="rgb(77,77,77)"/>
<rect x="330.75" y="72.55" width="6.1" height="6.1" fill="rgb(76,76,76)"/>
<rect x="336.60" y="72.55" width="6.1" height="6.1" fill="rgb(77,77,77)"/>
<rect x="342.45" y="72.55" width="6.1" height="6.1" fill="rgb(76,76,76)"/>
<rect x="348.30" y="72.55" width="6.1" height="6.1" fill="rgb(76,76,76)"/>
<rect x="196.20" y="78.40" width="6.1" height="6.1" fill="rgb(81,81,81)"/>
<rect x="202.05" y="78.40" width="6.1" height="6.1" fill="rgb(75,75,75)"/>
<rect x="207.90" y="78.40" width="6.1" height="6.1" fill="rgb(83,83,83)"/>
<rect x="213.75" y="78.40" width="6.1" height="6.1" fill="rgb(85,85,85)"/>
<rect x="219.60" y="78.40" width="6.1" height="6.1" fill="rgb(82,82,82)"/>
<rect x="225.45" y="78.40" width="6.1" height="6.1" fill="rgb(80,80,80)"/>
<rect x="231.30" y="78.40" width="6.1" height="6.1" fill="rgb(83,83,83)"/>
<rect x="237.15" y="78.40" width="6.1" height="6.1" fill="rgb(77,77,77)"/>
<rect x="243.00" y="78.40" width="6.1" height="6.1" fill="rgb(74,74,74)"/>
<rect x="248.85" y="78.40" width="6.1" height="6.1" fill="rgb(85,85,85)"/>
<rect x="254.70" y="78.40" width="6.1" height="6.1" fill="rgb(87,87,87)"/>
<rect x="260.55" y="78.40" width="6.1" height="6.1" fill="rgb(120,120,120)"/>
<rect x="266.40" y="78.40" width="6.1" height="6.1" fill="rgb(181,181,181)"/>
<rect x="272.25" y="78.40" width="6.1" height="6.1" fill="rgb(255,255,255)"/>
<rect x="278.10" y="78.40" width="6.1" height="6.1" fill="rgb(255,255,255)"/>
<rect x="283.95" y="78.40" width="6.1" height="6.1" fill="rgb(237,237,237)"/>
<rect x="289.80" y="78.40" width="6.1" height="6.1" fill="rgb(149,149,149)"/>
<rect x="295.65" y="78.40" width="6.1" height="6.1" fill="rgb(98,98,98)"/>
<rect x="301.50" y="78.40" width="6.1" height="6.1" fill="rgb(83,83,83)"/>
<rect x="307.35" y="78.40" width="6.1" height="6.1" fill="rgb(83,83,83)"/>
<rect x="313.20" y="78.40" width="6.1" height="6.1" fill="rgb(81,81,81)"/>
<rect x="319.05" y="78.40" width="6.1" height="6.1" fill="rgb(78,78,78)"/>
<rect x="324.90" y="78.40" width="6.1" height="6.1" fill="rgb(83,83,83)"/>
<rect x="330.75" y="78.40" width="6.1" height="6.1" fill="rgb(79,79,79)"/>
<rect x="336.60" y="78.40" width="6.1" height="6.1" fill="rgb(76,76,76)"/>
<rect x="342.45" y="78.40" width="6.1" height="6.1" fill="rgb(78,78,78)"/>
<rect x="348.30" y="78.40" width="6.1" height="6.1" fill="rgb(83,83,83)"/>
<rect x="196.20" y="84.25" width="6.1" height="6.1" fill="rgb(85,85,85)"/>
<rect x="202.05" y="84.25" width="6.1" height="6.1" fill="rgb(85,85,85)"/>
<rect x="207.90" y="84.25" width="6.1" height="6.1" fill="rgb(76,76,76)"/>
<rect x="213.75" y="84.25" width="6.1" height="6.1" fill="rgb(80,80,80)"/>
<rect x="219.60" y="84.25" width="6.1" height="6.1" fill="rgb(83,83,83)"/>
<rect x="225.45" y="84.25" width="6.1" height="6.1" fill="rgb(79,79,79)"/>
<rect x="231.30" y="84.25" width="6.1" height="6.1" fill="rgb(85,85,85)"/>
<rect x="237.15" y="84.25" width="6.1" height="6.1" fill="rgb(84,84,84)"/>
<rect x="243.00" y="84.25" width="6.1" height="6.1" fill="rgb(86,86,86)"/>
<rect x="248.85" y="84.25" width="6.1" height="6.1" fill="rgb(84,84,84)"/>
<rect x="254.70" y="84.25" width="6.1" height="6.1" fill="rgb(103,103,103)"/>
<rect x="260.55" y="84.25" width="6.1" height="6.1" fill="rgb(124,124,124)"/>
<rect x="266.40" y="84.25" width="6.1" height="6.1" fill="rgb(186,186,186)"/>
<rect x="272.25" y="84.25" width="6.1" height="6.1" fill="rgb(255,255,255)"/>
<rect x="278.10" y="84.25" width="6.1" height="6.1" fill="rgb(255,255,255)"/>
<rect x="283.95" y="84.25" width="6.1" height="6.1" fill="rgb(228,228,228)"/>
<rect x="289.80" y="84.25" width="6.1" height="6.1" fill="rgb(154,154,154)"/>
<rect x="295.65" y="84.25" width="6.1" height="6.1" fill="rgb(108,108,108)"/>
<rect x="301.50" y="84.25" width="6.1" height="6.1" fill="rgb(86,86,86)"/>
<rect x="307.35" y="84.25" width="6.1" height="6.1" fill="rgb(75,75,75)"/>
<rect x="313.20" y="84.25" width="6.1" height="6.1" fill="rgb(79,79,79)"/>
<rect x="319.05" y="84.25" width="6.1" height="6.1" fill="rgb(79,79,79)"/>
<rect x="324.90" y="84.25" width="6.1" height="6.1" fill="rgb(81,81,81)"/>
<rect x="330.75" y="84.25" width="6.1" height="6.1" fill="rgb(79,79,79)"/>
<rect x="336.60" y="84.25" width="6.1" height="6.1" fill="rgb(76,76,76)"/>
<rect x="342.45" y="84.25" width="6.1" height="6.1" fill="rgb(79,79,79)"/>
<rect x="348.30" y="84.25" width="6.1" height="6.1" fill="rgb(77,77,77)"/>
<rect x="196.20" y="90.10" width="6.1" height="6.1" fill="rgb(81,81,81)"/>
<rect x="202.05" y="90.10" width="6.1" height="6.1" fill="rgb(81,81,81)"/>
<rect x="207.90" y="90.10" width="6.1" height="6.1" fill="rgb(79,79,79)"/>
<rect x="213.75" y="90.10" width="6.1" height="6.1" fill="rgb(83,83,83)"/>
<rect x="219.60" y="90.10" width="6.1" height="6.1" fill="rgb(75,75,75)"/>
<rect x="225.45" y="90.10" width="6.1" height="6.1" fill="rgb(77,77,77)"/>
<rect x="231.30" y="90.10" width="6.1" height="6.1" fill="rgb(80,80,80)"/>
<rect x="237.15" y="90.10" width="6.1" height="6.1" fill="rgb(74,74,74)"/>
<rect x="243.00" y="90.10" width="6.1" height="6.1" fill="rgb(80,80,80)"/>
<rect x="248.85" y="90.10" width="6.1" height="6.1" fill="rgb(76,76,76)"/>
<rect x="254.70" y="90.10" width="6.1" height="6.1" fill="rgb(90,90,90)"/>
<rect x="260.55" y="90.10" width="6.1" height="6.1" fill="rgb(126,126,126)"/>
<rect x="266.40" y="90.10" width="6.1" height="6.1" fill="rgb(200,200,200)"/>
<rect x="272.25" y="90.10" width="6.1" height="6.1" fill="rgb(255,255,255)"/>
<rect x="278.10" y="90.10" width="6.1" height="6.1" fill="rgb(255,255,255)"/>
<rect x="283.95" y="90.10" width="6.1" height="6.1" fill="rgb(215,215,215)"/>
<rect x="289.80" y="90.10" width="6.1" height="6.1" fill="rgb(152,152,152)"/>
<rect x="295.65" y="90.10" width="6.1" height="6.1" fill="rgb(103,103,103)"/>
<rect x="301.50" y="90.10" width="6.1" height="6.1" fill="rgb(90,90,90)"/>
<rect x="307.35" y="90.10" width="6.1" height="6.1" fill="rgb(76,76,76)"/>
<rect x="313.20" y="90.10" width="6.1" height="6.1" fill="rgb(77,77,77)"/>
<rect x="319.05" y="90.10" width="6.1" height="6.1" fill="rgb(68,68,68)"/>
<rect x="324.90" y="90.10" width="6.1" height="6.1" fill="rgb(79,79,79)"/>
<rect x="330.75" y="90.10" width="6.1" height="6.1" fill="rgb(80,80,80)"/>
<rect x="336.60" y="90.10" width="6.1" height="6.1" fill="rgb(67,67,67)"/>
<rect x="342.45" y="90.10" width="6.1" height="6.1" fill="rgb(75,75,75)"/>
<rect x="348.30" y="90.10" width="6.1" height="6.1" fill="rgb(77,77,77)"/>
<rect x="196.20" y="95.95" width="6.1" height="6.1" fill="rgb(72,72,72)"/>
<rect x="202.05" y="95.95" width="6.1" height="6.1" fill="rgb(72,72,72)"/>
<rect x="207.90" y="95.95" width="6.1" height="6.1" fill="rgb(75,75,75)"/>
<rect x="213.75" y="95.95" width="6.1" height="6.1" fill="rgb(77,77,77)"/>
<rect x="219.60" y="95.95" width="6.1" height="6.1" fill="rgb(73,73,73)"/>
<rect x="225.45" y="95.95" width="6.1" height="6.1" fill="rgb(80,80,80)"/>
<rect x="231.30" y="95.95" width="6.1" height="6.1" fill="rgb(81,81,81)"/>
<rect x="237.15" y="95.95" width="6.1" height="6.1" fill="rgb(83,83,83)"/>
<rect x="243.00" y="95.95" width="6.1" height="6.1" fill="rgb(85,85,85)"/>
<rect x="248.85" y="95.95" width="6.1" height="6.1" fill="rgb(92,92,92)"/>
<rect x="254.70" y="95.95" width="6.1" height="6.1" fill="rgb(102,102,102)"/>
<rect x="260.55" y="95.95" width="6.1" height="6.1" fill="rgb(129,129,129)"/>
<rect x="266.40" y="95.95" width="6.1" height="6.1" fill="rgb(214,214,214)"/>
<rect x="272.25" y="95.95" width="6.1" height="6.1" fill="rgb(255,255,255)"/>
<rect x="278.10" y="95.95" width="6.1" height="6.1" fill="rgb(255,255,255)"/>
<rect x="283.95" y="95.95" width="6.1" height="6.1" fill="rgb(205,205,205)"/>
<rect x="289.80" y="95.95" width="6.1" height="6.1" fill="rgb(132,132,132)"/>
<rect x="295.65" y="95.95" width="6.1" height="6.1" fill="rgb(98,98,98)"/>
<rect x="301.50" y="95.95" width="6.1" height="6.1" fill="rgb(76,76,76)"/>
<rect x="307.35" y="95.95" width="6.1" height="6.1" fill="rgb(74,74,74)"/>
<rect x="313.20" y="95.95" width="6.1" height="6.1" fill="rgb(77,77,77)"/>
<rect x="319.05" y="95.95" width="6.1" height="6.1" fill="rgb(75,75,75)"/>
<rect x="324.90" y="95.95" width="6.1" height="6.1" fill="rgb(74,74,74)"/>
<rect x="330.75" y="95.95" width="6.1" height="6.1" fill="rgb(75,75,75)"/>
<rect x="336.60" y="95.95" width="6.1" height="6.1" fill="rgb(71,71,71)"/>
<rect x="342.45" y="95.95" width="6.1" height="6.1" fill="rgb(78,78,78)"/>
<rect x="348.30" y="95.95" width="6.1" height="6.1" fill="rgb(76,76,76)"/>
<rect x="196.20" y="101.80" width="6.1" height="6.1" fill="rgb(79,79,79)"/>
<rect x="202.05" y="101.80" width="6.1" height="6.1" fill="rgb(77,77,77)"/>
<rect x="207.90" y="101.80" width="6.1" height="6.1" fill="rgb(79,79,79)"/>
<rect x="213.75" y="101.80" width="6.1" height="6.1" fill="rgb(67,67,67)"/>
<rect x="219.60" y="101.80" width="6.1" height="6.1" fill="rgb(75,75,75)"/>
<rect x="225.45" y="101.80" width="6.1" height="6.1" fill="rgb(79,79,79)"/>
<rect x="231.30" y="101.80" width="6.1" height="6.1" fill="rgb(73,73,73)"/>
<rect x="237.15" y="101.80" width="6.1" height="6.1" fill="rgb(81,81,81)"/>
<rect x="243.00" y="101.80" width="6.1" height="6.1" fill="rgb(83,83,83)"/>
<rect x="248.85" y="101.80" width="6.1" height="6.1" fill="rgb(80,80,80)"/>
<rect x="254.70" y="101.80" width="6.1" height="6.1" fill="rgb(100,100,100)"/>
<rect x="260.55" y="101.80" width="6.1" height="6.1" fill="rgb(146,146,146)"/>
<rect x="266.40" y="101.80" width="6.1" height="6.1" fill="rgb(236,236,236)"/>
<rect x="272.25" y="101.80" width="6.1" height="6.1" fill="rgb(255,255,255)"/>
<rect x="278.10" y="101.80" width="6.1" height="6.1" fill="rgb(255,255,255)"/>
<rect x="283.95" y="101.80" width="6.1" height="6.1" fill="rgb(169,169,169)"/>
<rect x="289.80" y="101.80" width="6.1" height="6.1" fill="rgb(109,109,109)"/>
<rect x="295.65" y="101.80" width="6.1" height="6.1" fill="rgb(87,87,87)"/>
<rect x="301.50" y="101.80" width="6.1" height="6.1" fill="rgb(84,84,84)"/>
<rect x="307.35" y="101.80" width="6.1" height="6.1" fill="rgb(80,80,80)"/>
<rect x="313.20" y="101.80" width="6.1" height="6.1" fill="rgb(73,73,73)"/>
<rect x="319.05" y="101.80" width="6.1" height="6.1" fill="rgb(70,70,70)"/>
<rect x="324.90" y="101.80" width="6.1" height="6.1" fill="rgb(73,73,73)"/>
<rect x="330.75" y="101.80" width="6.1" height="6.1" fill="rgb(71,71,71)"/>
<rect x="336.60" y="101.80" width="6.1" height="6.1" fill="rgb(69,69,69)"/>
<rect x="342.45" y="101.80" width="6.1" height="6.1" fill="rgb(74,74,74)"/>
<rect x="348.30" y="101.80" width="6.1" height="6.1" fill="rgb(72,72,72)"/>
<rect x="196.20" y="107.65" width="6.1" height="6.1" fill="rgb(80,80,80)"/>
<rect x="202.05" y="107.65" width="6.1" height="6.1" fill="rgb(82,82,82)"/>
<rect x="207.90" y="107.65" width="6.1" height="6.1" fill="rgb(77,77,77)"/>
<rect x="213.75" y="107.65" width="6.1" height="6.1" fill="rgb(89,89,89)"/>
<rect x="219.60" y="107.65" width="6.1" height="6.1" fill="rgb(77,77,77)"/>
<rect x="225.45" y="107.65" width="6.1" height="6.1" fill="rgb(84,84,84)"/>
<rect x="231.30" y="107.65" width="6.1" height="6.1" fill="rgb(80,80,80)"/>
<rect x="237.15" y="107.65" width="6.1" height="6.1" fill="rgb(85,85,85)"/>
<rect x="243.00" y="107.65" width="6.1" height="6.1" fill="rgb(72,72,72)"/>
<rect x="248.85" y="107.65" width="6.1" height="6.1" fill="rgb(84,84,84)"/>
<rect x="254.70" y="107.65" width="6.1" height="6.1" fill="rgb(108,108,108)"/>
<rect x="260.55" y="107.65" width="6.1" height="6.1" fill="rgb(166,166,166)"/>
<rect x="266.40" y="107.65" width="6.1" height="6.1" fill="rgb(255,255,255)"/>
<rect x="272.25" y="107.65" width="6.1" height="6.1" fill="rgb(255,255,255)"/>
<rect x="278.10" y="107.65" width="6.1" height="6.1" fill="rgb(235,235,235)"/>
<rect x="283.95" y="107.65" width="6.1" height="6.1" fill="rgb(137,137,137)"/>
<rect x="289.80" y="107.65" width="6.1" height="6.1" fill="rgb(97,97,97)"/>
<rect x="295.65" y="107.65" width="6.1" height="6.1" fill="rgb(85,85,85)"/>
<rect x="301.50" y="107.65" width="6.1" height="6.1" fill="rgb(79,79,79)"/>
<rect x="307.35" y="107.65" width="6.1" height="6.1" fill="rgb(80,80,80)"/>
<rect x="313.20" y="107.65" width="6.1" height="6.1" fill="rgb(71,71,71)"/>
<rect x="319.05" y="107.65" width="6.1" height="6.1" fill="rgb(81,81,81)"/>
<rect x="324.90" y="107.65" width="6.1" height="6.1" fill="rgb(70,70,70)"/>
<rect x="330.75" y="107.65" width="6.1" height="6.1" fill="rgb(75,75,75)"/>
<rect x="336.60" y="107.65" width="6.1" height="6.1" fill="rgb(84,84,84)"/>
<rect x="342.45" y="107.65" width="6.1" height="6.1" fill="rgb(73,73,73)"/>
<rect x="348.30" y="107.65" width="6.1" height="6.1" fill="rgb(74,74,74)"/>
<rect x="196.20" y="113.50" width="6.1" height="6.1" fill="rgb(84,84,84)"/>
<rect x="202.05" y="113.50" width="6.1" height="6.1" fill="rgb(79,79,79)"/>
<rect x="207.90" y="113.50" width="6.1" height="6.1" fill="rgb(75,75,75)"/>
<rect x="213.75" y="113.50" width="6.1" height="6.1" fill="rgb(80,80,80)"/>
<rect x="219.60" y="113.50" width="6.1" height="6.1" fill="rgb(81,81,81)"/>
<rect x="225.45" y="113.50" width="6.1" height="6.1" fill="rgb(82,82,82)"/>
<rect x="231.30" y="113.50" width="6.1" height="6.1" fill="rgb(76,76,76)"/>
<rect x="237.15" y="113.50" width="6.1" height="6.1" fill="rgb(88,88,88)"/>
<rect x="243.00" y="113.50" width="6.1" height="6.1" fill="rgb(90,90,90)"/>
<rect x="248.85" y="113.50" width="6.1" height="6.1" fill="rgb(90,90,90)"/>
<rect x="254.70" y="113.50" width="6.1" height="6.1" fill="rgb(116,116,116)"/>
<rect x="260.55" y="113.50" width="6.1" height="6.1" fill="rgb(179,179,179)"/>
<rect x="266.40" y="113.50" width="6.1" height="6.1" fill="rgb(255,255,255)"/>
<rect x="272.25" y="113.50" width="6.1" height="6.1" fill="rgb(255,255,255)"/>
<rect x="278.10" y="113.50" width="6.1" height="6.1" fill="rgb(202,202,202)"/>
<rect x="283.95" y="113.50" width="6.1" height="6.1" fill="rgb(112,112,112)"/>
<rect x="289.80" y="113.50" width="6.1" height="6.1" fill="rgb(84,84,84)"/>
<rect x="295.65" y="113.50" width="6.1" height="6.1" fill="rgb(85,85,85)"/>
<rect x="301.50" y="113.50" width="6.1" height="6.1" fill="rgb(85,85,85)"/>
<rect x="307.35" y="113.50" width="6.1" height="6.1" fill="rgb(77,77,77)"/>
<rect x="313.20" y="113.50" width="6.1" height="6.1" fill="rgb(73,73,73)"/>
<rect x="319.05" y="113.50" width="6.1" height="6.1" fill="rgb(78,78,78)"/>
<rect x="324.90" y="113.50" width="6.1" height="6.1" fill="rgb(74,74,74)"/>
<rect x="330.75" y="113.50" width="6.1" height="6.1" fill="rgb(75,75,75)"/>
<rect x="336.60" y="113.50" width="6.1" height="6.1" fill="rgb(81,81,81)"/>
<rect x="342.45" y="113.50" width="6.1" height="6.1" fill="rgb(79,79,79)"/>
<rect x="348.30" y="113.50" width="6.1" height="6.1" fill="rgb(71,71,71)"/>
<rect x="196.20" y="119.35" width="6.1" height="6.1" fill="rgb(89,89,89)"/>
<rect x="202.05" y="119.35" width="6.1" height="6.1" fill="rgb(79,79,79)"/>
<rect x="207.90" y="119.35" width="6.1" height="6.1" fill="rgb(82,82,82)"/>
<rect x="213.75" y="119.35" width="6.1" height="6.1" fill="rgb(75,75,75)"/>
<rect x="219.60" y="119.35" width="6.1" height="6.1" fill="rgb(78,78,78)"/>
<rect x="225.45" y="119.35" width="6.1" height="6.1" fill="rgb(71,71,71)"/>
<rect x="231.30" y="119.35" width="6.1" height="6.1" fill="rgb(87,87,87)"/>
<rect x="237.15" y="119.35" width="6.1" height="6.1" fill="rgb(87,87,87)"/>
<rect x="243.00" y="119.35" width="6.1" height="6.1" fill="rgb(78,78,78)"/>
<rect x="248.85" y="119.35" width="6.1" height="6.1" fill="rgb(86,86,86)"/>
<rect x="254.70" y="119.35" width="6.1" height="6.1" fill="rgb(118,118,118)"/>
<rect x="260.55" y="119.35" width="6.1" height="6.1" fill="rgb(206,206,206)"/>
<rect x="266.40" y="119.35" width="6.1" height="6.1" fill="rgb(255,255,255)"/>
<rect x="272.25" y="119.35" width="6.1" height="6.1" fill="rgb(255,255,255)"/>
<rect x="278.10" y="119.35" width="6.1" height="6.1" fill="rgb(172,172,172)"/>
<rect x="283.95" y="119.35" width="6.1" height="6.1" fill="rgb(103,103,103)"/>
<rect x="289.80" y="119.35" width="6.1" height="6.1" fill="rgb(80,80,80)"/>
<rect x="295.65" y="119.35" width="6.1" height="6.1" fill="rgb(81,81,81)"/>
<rect x="301.50" y="119.35" width="6.1" height="6.1" fill="rgb(72,72,72)"/>
<rect x="307.35" y="119.35" width="6.1" height="6.1" fill="rgb(76,76,76)"/>
<rect x="313.20" y="119.35" width="6.1" height="6.1" fill="rgb(76,76,76)"/>
<rect x="319.05" y="119.35" width="6.1" height="6.1" fill="rgb(76,76,76)"/>
<rect x="324.90" y="119.35" width="6.1" height="6.1" fill="rgb(73,73,73)"/>
<rect x="330.75" y="119.35" width="6.1" height="6.1" fill="rgb(70,70,70)"/>
<rect x="336.60" y="119.35" width="6.1" height="6.1" fill="rgb(74,74,74)"/>
<rect x="342.45" y="119.35" width="6.1" height="6.1" fill="rgb(71,71,71)"/>
<rect x="348.30" y="119.35" width="6.1" height="6.1" fill="rgb(80,80,80)"/>
<rect x="196.20" y="125.20" width="6.1" height="6.1" fill="rgb(82,82,82)"/>
<rect x="202.05" y="125.20" width="6.1" height="6.1" fill="rgb(78,78,78)"/>
<rect x="207.90" y="125.20" width="6.1" height="6.1" fill="rgb(76,76,76)"/>
<rect x="213.75" y="125.20" width="6.1" height="6.1" fill="rgb(75,75,75)"/>
<rect x="219.60" y="125.20" width="6.1" height="6.1" fill="rgb(74,74,74)"/>
<rect x="225.45" y="125.20" width="6.1" height="6.1" fill="rgb(77,77,77)"/>
<rect x="231.30" y="125.20" width="6.1" height="6.1" fill="rgb(81,81,81)"/>
<rect x="237.15" y="125.20" width="6.1" height="6.1" fill="rgb(83,83,83)"/>
<rect x="243.00" y="125.20" width="6.1" height="6.1" fill="rgb(88,88,88)"/>
<rect x="248.85" y="125.20" width="6.1" height="6.1" fill="rgb(109,109,109)"/>
<rect x="254.70" y="125.20" width="6.1" height="6.1" fill="rgb(145,145,145)"/>
<rect x="260.55" y="125.20" width="6.1" height="6.1" fill="rgb(237,237,237)"/>
<rect x="266.40" y="125.20" width="6.1" height="6.1" fill="rgb(255,255,255)"/>
<rect x="272.25" y="125.20" width="6.1" height="6.1" fill="rgb(229,229,229)"/>
<rect x="278.10" y="125.20" width="6.1" height="6.1" fill="rgb(132,132,132)"/>
<rect x="283.95" y="125.20" width="6.1" height="6.1" fill="rgb(92,92,92)"/>
<rect x="289.80" y="125.20" width="6.1" height="6.1" fill="rgb(83,83,83)"/>
<rect x="295.65" y="125.20" width="6.1" height="6.1" fill="rgb(81,81,81)"/>
<rect x="301.50" y="125.20" width="6.1" height="6.1" fill="rgb(76,76,76)"/>
<rect x="307.35" y="125.20" width="6.1" height="6.1" fill="rgb(77,77,77)"/>
<rect x="313.20" y="125.20" width="6.1" height="6.1" fill="rgb(75,75,75)"/>
<rect x="319.05" y="125.20" width="6.1" height="6.1" fill="rgb(77,77,77)"/>
<rect x="324.90" y="125.20" width="6.1" height="6.1" fill="rgb(65,65,65)"/>
<rect x="330.75" y="125.20" width="6.1" height="6.1" fill="rgb(69,69,69)"/>
<rect x="336.60" y="125.20" width="6.1" height="6.1" fill="rgb(73,73,73)"/>
<rect x="342.45" y="125.20" width="6.1" height="6.1" fill="rgb(68,68,68)"/>
<rect x="348.30" y="125.20" width="6.1" height="6.1" fill="rgb(68,68,68)"/>
<rect x="196.20" y="131.05" width="6.1" height="6.1" fill="rgb(81,81,81)"/>
<rect x="202.05" y="131.05" width="6.1" height="6.1" fill="rgb(75,75,75)"/>
<rect x="207.90" y="131.05" width="6.1" height="6.1" fill="rgb(81,81,81)"/>
<rect x="213.75" y="131.05" width="6.1" height="6.1" fill="rgb(81,81,81)"/>
<rect x="219.60" y="131.05" width="6.1" height="6.1" fill="rgb(79,79,79)"/>
<rect x="225.45" y="131.05" width="6.1" height="6.1" fill="rgb(81,81,81)"/>
<rect x="231.30" y="131.05" width="6.1" height="6.1" fill="rgb(79,79,79)"/>
<rect x="237.15" y="131.05" width="6.1" height="6.1" fill="rgb(76,76,76)"/>
<rect x="243.00" y="131.05" width="6.1" height="6.1" fill="rgb(88,88,88)"/>
<rect x="248.85" y="131.05" width="6.1" height="6.1" fill="rgb(114,114,114)"/>
<rect x="254.70" y="131.05" width="6.1" height="6.1" fill="rgb(179,179,179)"/>
<rect x="260.55" y="131.05" width="6.1" height="6.1" fill="rgb(255,255,255)"/>
<rect x="266.40" y="131.05" width="6.1" height="6.1" fill="rgb(255,255,255)"/>
<rect x="272.25" y="131.05" width="6.1" height="6.1" fill="rgb(175,175,175)"/>
<rect x="278.10" y="131.05" width="6.1" height="6.1" fill="rgb(108,108,108)"/>
<rect x="283.95" y="131.05" width="6.1" height="6.1" fill="rgb(93,93,93)"/>
<rect x="289.80" y="131.05" width="6.1" height="6.1" fill="rgb(78,78,78)"/>
<rect x="295.65" y="131.05" width="6.1" height="6.1" fill="rgb(78,78,78)"/>
<rect x="301.50" y="131.05" width="6.1" height="6.1" fill="rgb(75,75,75)"/>
<rect x="307.35" y="131.05" width="6.1" height="6.1" fill="rgb(82,82,82)"/>
<rect x="313.20" y="131.05" width="6.1" height="6.1" fill="rgb(75,75,75)"/>
<rect x="319.05" y="131.05" width="6.1" height="6.1" fill="rgb(78,78,78)"/>
<rect x="324.90" y="131.05" width="6.1" height="6.1" fill="rgb(70,70,70)"/>
<rect x="330.75" y="131.05" width="6.1" height="6.1" fill="rgb(73,73,73)"/>
<rect x="336.60" y="131.05" width="6.1" height="6.1" fill="rgb(73,73,73)"/>
<rect x="342.45" y="131.05" width="6.1" height="6.1" fill="rgb(64,64,64)"/>
<rect x="348.30" y="131.05" width="6.1" height="6.1" fill="rgb(79,79,79)"/>
<rect x="196.20" y="136.90" width="6.1" height="6.1" fill="rgb(82,82,82)"/>
<rect x="202.05" y="136.90" width="6.1" height="6.1" fill="rgb(70,70,70)"/>
<rect x="207.90" y="136.90" width="6.1" height="6.1" fill="rgb(81,81,81)"/>
<rect x="213.75" y="136.90" width="6.1" height="6.1" fill="rgb(77,77,77)"/>
<rect x="219.60" y="136.90" width="6.1" height="6.1" fill="rgb(80,80,80)"/>
<rect x="225.45" y="136.90" width="6.1" height="6.1" fill="rgb(80,80,80)"/>
<rect x="231.30" y="136.90" width="6.1" height="6.1" fill="rgb(74,74,74)"/>
<rect x="237.15" y="136.90" width="6.1" height="6.1" fill="rgb(82,82,82)"/>
<rect x="243.00" y="136.90" width="6.1" height="6.1" fill="rgb(99,99,99)"/>
<rect x="248.85" y="136.90" width="6.1" height="6.1" fill="rgb(126,126,126)"/>
<rect x="254.70" y="136.90" width="6.1" height="6.1" fill="rgb(214,214,214)"/>
<rect x="260.55" y="136.90" width="6.1" height="6.1" fill="rgb(255,255,255)"/>
<rect x="266.40" y="136.90" width="6.1" height="6.1" fill="rgb(237,237,237)"/>
<rect x="272.25" y="136.90" width="6.1" height="6.1" fill="rgb(138,138,138)"/>
<rect x="278.10" y="136.90" width="6.1" height="6.1" fill="rgb(99,99,99)"/>
<rect x="283.95" y="136.90" width="6.1" height="6.1" fill="rgb(84,84,84)"/>
<rect x="289.80" y="136.90" width="6.1" height="6.1" fill="rgb(80,80,80)"/>
<rect x="295.65" y="136.90" width="6.1" height="6.1" fill="rgb(87,87,87)"/>
<rect x="301.50" y="136.90" width="6.1" height="6.1" fill="rgb(73,73,73)"/>
<rect x="307.35" y="136.90" width="6.1" height="6.1" fill="rgb(71,71,71)"/>
<rect x="313.20" y="136.90" width="6.1" height="6.1" fill="rgb(76,76,76)"/>
<rect x="319.05" y="136.90" width="6.1" height="6.1" fill="rgb(76,76,76)"/>
<rect x="324.90" y="136.90" width="6.1" height="6.1" fill="rgb(68,68,68)"/>
<rect x="330.75" y="136.90" width="6.1" height="6.1" fill="rgb(67,67,67)"/>
<rect x="336.60" y="136.90" width="6.1" height="6.1" fill="rgb(74,74,74)"/>
<rect x="342.45" y="136.90" width="6.1" height="6.1" fill="rgb(73,73,73)"/>
<rect x="348.30" y="136.90" width="6.1" height="6.1" fill="rgb(66,66,66)"/>
<rect x="196.20" y="142.75" width="6.1" height="6.1" fill="rgb(77,77,77)"/>
<rect x="202.05" y="142.75" width="6.1" height="6.1" fill="rgb(75,75,75)"/>
<rect x="207.90" y="142.75" width="6.1" height="6.1" fill="rgb(79,79,79)"/>
<rect x="213.75" y="142.75" width="6.1" height="6.1" fill="rgb(77,77,77)"/>
<rect x="219.60" y="142.75" width="6.1" height="6.1" fill="rgb(78,78,78)"/>
<rect x="225.45" y="142.75" width="6.1" height="6.1" fill="rgb(77,77,77)"/>
<rect x="231.30" y="142.75" width="6.1" height="6.1" fill="rgb(86,86,86)"/>
<rect x="237.15" y="142.75" width="6.1" height="6.1" fill="rgb(91,91,91)"/>
<rect x="243.00" y="142.75" width="6.1" height="6.1" fill="rgb(97,97,97)"/>
<rect x="248.85" y="142.75" width="6.1" height="6.1" fill="rgb(156,156,156)"/>
<rect x="254.70" y="142.75" width="6.1" height="6.1" fill="rgb(248,248,248)"/>
<rect x="260.55" y="142.75" width="6.1" height="6.1" fill="rgb(255,255,255)"/>
<rect x="266.40" y="142.75" width="6.1" height="6.1" fill="rgb(208,208,208)"/>
<rect x="272.25" y="142.75" width="6.1" height="6.1" fill="rgb(121,121,121)"/>
<rect x="278.10" y="142.75" width="6.1" height="6.1" fill="rgb(85,85,85)"/>
<rect x="283.95" y="142.75" width="6.1" height="6.1" fill="rgb(80,80,80)"/>
<rect x="289.80" y="142.75" width="6.1" height="6.1" fill="rgb(79,79,79)"/>
<rect x="295.65" y="142.75" width="6.1" height="6.1" fill="rgb(69,69,69)"/>
<rect x="301.50" y="142.75" width="6.1" height="6.1" fill="rgb(75,75,75)"/>
<rect x="307.35" y="142.75" width="6.1" height="6.1" fill="rgb(71,71,71)"/>
<rect x="313.20" y="142.75" width="6.1" height="6.1" fill="rgb(75,75,75)"/>
<rect x="319.05" y="142.75" width="6.1" height="6.1" fill="rgb(68,68,68)"/>
<rect x="324.90" y="142.75" width="6.1" height="6.1" fill="rgb(64,64,64)"/>
<rect x="330.75" y="142.75" width="6.1" height="6.1" fill="rgb(72,72,72)"/>
<rect x="336.60" y="142.75" width="6.1" height="6.1" fill="rgb(73,73,73)"/>
<rect x="342.45" y="142.75" width="6.1" height="6.1" fill="rgb(69,69,69)"/>
<rect x="348.30" y="142.75" width="6.1" height="6.1" fill="rgb(76,76,76)"/>
<rect x="196.20" y="148.60" width="6.1" height="6.1" fill="rgb(76,76,76)"/>
<rect x="202.05" y="148.60" width="6.1" height="6.1" fill="rgb(74,74,74)"/>
<rect x="207.90" y="148.60" width="6.1" height="6.1" fill="rgb(79,79,79)"/>
<rect x="213.75" y="148.60" width="6.1" height="6.1" fill="rgb(70,70,70)"/>
<rect x="219.60" y="148.60" width="6.1" height="6.1" fill="rgb(75,75,75)"/>
<rect x="225.45" y="148.60" width="6.1" height="6.1" fill="rgb(79,79,79)"/>
<rect x="231.30" y="148.60" width="6.1" height="6.1" fill="rgb(85,85,85)"/>
<rect x="237.15" y="148.60" width="6.1" height="6.1" fill="rgb(85,85,85)"/>
<rect x="243.00" y="148.60" width="6.1" height="6.1" fill="rgb(108,108,108)"/>
<rect x="248.85" y="148.60" width="6.1" height="6.1" fill="rgb(171,171,171)"/>
<rect x="254.70" y="148.60" width="6.1" height="6.1" fill="rgb(255,255,255)"/>
<rect x="260.55" y="148.60" width="6.1" height="6.1" fill="rgb(255,255,255)"/>
<rect x="266.40" y="148.60" width="6.1" height="6.1" fill="rgb(174,174,174)"/>
<rect x="272.25" y="148.60" width="6.1" height="6.1" fill="rgb(114,114,114)"/>
<rect x="278.10" y="148.60" width="6.1" height="6.1" fill="rgb(81,81,81)"/>
<rect x="283.95" y="148.60" width="6.1" height="6.1" fill="rgb(80,80,80)"/>
<rect x="289.80" y="148.60" width="6.1" height="6.1" fill="rgb(78,78,78)"/>
<rect x="295.65" y="148.60" width="6.1" height="6.1" fill="rgb(80,80,80)"/>
<rect x="301.50" y="148.60" width="6.1" height="6.1" fill="rgb(68,68,68)"/>
<rect x="307.35" y="148.60" width="6.1" height="6.1" fill="rgb(64,64,64)"/>
<rect x="313.20" y="148.60" width="6.1" height="6.1" fill="rgb(75,75,75)"/>
<rect x="319.05" y="148.60" width="6.1" height="6.1" fill="rgb(76,76,76)"/>
<rect x="324.90" y="148.60" width="6.1" height="6.1" fill="rgb(75,75,75)"/>
<rect x="330.75" y="148.60" width="6.1" height="6.1" fill="rgb(84,84,84)"/>
<rect x="336.60" y="148.60" width="6.1" height="6.1" fill="rgb(73,73,73)"/>
<rect x="342.45" y="148.60" width="6.1" height="6.1" fill="rgb(73,73,73)"/>
<rect x="348.30" y="148.60" width="6.1" height="6.1" fill="rgb(75,75,75)"/>
<rect x="196.20" y="154.45" width="6.1" height="6.1" fill="rgb(70,70,70)"/>
<rect x="202.05" y="154.45" width="6.1" height="6.1" fill="rgb(76,76,76)"/>
<rect x="207.90" y="154.45" width="6.1" height="6.1" fill="rgb(71,71,71)"/>
<rect x="213.75" y="154.45" width="6.1" height="6.1" fill="rgb(75,75,75)"/>
<rect x="219.60" y="154.45" width="6.1" height="6.1" fill="rgb(62,62,62)"/>
<rect x="225.45" y="154.45" width="6.1" height="6.1" fill="rgb(83,83,83)"/>
<rect x="231.30" y="154.45" width="6.1" height="6.1" fill="rgb(80,80,80)"/>
<rect x="237.15" y="154.45" width="6.1" height="6.1" fill="rgb(92,92,92)"/>
<rect x="243.00" y="154.45" width="6.1" height="6.1" fill="rgb(127,127,127)"/>
<rect x="248.85" y="154.45" width="6.1" height="6.1" fill="rgb(194,194,194)"/>
<rect x="254.70" y="154.45" width="6.1" height="6.1" fill="rgb(255,255,255)"/>
<rect x="260.55" y="154.45" width="6.1" height="6.1" fill="rgb(249,249,249)"/>
<rect x="266.40" y="154.45" width="6.1" height="6.1" fill="rgb(155,155,155)"/>
<rect x="272.25" y="154.45" width="6.1" height="6.1" fill="rgb(97,97,97)"/>
<rect x="278.10" y="154.45" width="6.1" height="6.1" fill="rgb(86,86,86)"/>
<rect x="283.95" y="154.45" width="6.1" height="6.1" fill="rgb(78,78,78)"/>
<rect x="289.80" y="154.45" width="6.1" height="6.1" fill="rgb(76,76,76)"/>
<rect x="295.65" y="154.45" width="6.1" height="6.1" fill="rgb(74,74,74)"/>
<rect x="301.50" y="154.45" width="6.1" height="6.1" fill="rgb(77,77,77)"/>
<rect x="307.35" y="154.45" width="6.1" height="6.1" fill="rgb(75,75,75)"/>
<rect x="313.20" y="154.45" width="6.1" height="6.1" fill="rgb(72,72,72)"/>
<rect x="319.05" y="154.45" width="6.1" height="6.1" fill="rgb(75,75,75)"/>
<rect x="324.90" y="154.45" width="6.1" height="6.1" fill="rgb(71,71,71)"/>
<rect x="330.75" y="154.45" width="6.1" height="6.1" fill="rgb(66,66,66)"/>
<rect x="336.60" y="154.45" width="6.1" height="6.1" fill="rgb(78,78,78)"/>
<rect x="342.45" y="154.45" width="6.1" height="6.1" fill="rgb(73,73,73)"/>
<rect x="348.30" y="154.45" width="6.1" height="6.1" fill="rgb(67,67,67)"/>
<rect x="196.20" y="160.30" width="6.1" height="6.1" fill="rgb(73,73,73)"/>
<rect x="202.05" y="160.30" width="6.1" height="6.1" fill="rgb(70,70,70)"/>
<rect x="207.90" y="160.30" width="6.1" height="6.1" fill="rgb(61,61,61)"/>
<rect x="213.75" y="160.30" width="6.1" height="6.1" fill="rgb(84,84,84)"/>
<rect x="219.60" y="160.30" width="6.1" height="6.1" fill="rgb(79,79,79)"/>
<rect x="225.45" y="160.30" width="6.1" height="6.1" fill="rgb(83,83,83)"/>
<rect x="231.30" y="160.30" width="6.1" height="6.1" fill="rgb(83,83,83)"/>
<rect x="237.15" y="160.30" width="6.1" height="6.1" fill="rgb(91,91,91)"/>
<rect x="243.00" y="160.30" width="6.1" height="6.1" fill="rgb(122,122,122)"/>
<rect x="248.85" y="160.30" width="6.1" height="6.1" fill="rgb(213,213,213)"/>
<rect x="254.70" y="160.30" width="6.1" height="6.1" fill="rgb(255,255,255)"/>
<rect x="260.55" y="160.30" width="6.1" height="6.1" fill="rgb(220,220,220)"/>
<rect x="266.40" y="160.30" width="6.1" height="6.1" fill="rgb(143,143,143)"/>
<rect x="272.25" y="160.30" width="6.1" height="6.1" fill="rgb(95,95,95)"/>
<rect x="278.10" y="160.30" width="6.1" height="6.1" fill="rgb(84,84,84)"/>
<rect x="283.95" y="160.30" width="6.1" height="6.1" fill="rgb(75,75,75)"/>
<rect x="289.80" y="160.30" width="6.1" height="6.1" fill="rgb(75,75,75)"/>
<rect x="295.65" y="160.30" width="6.1" height="6.1" fill="rgb(64,64,64)"/>
<rect x="301.50" y="160.30" width="6.1" height="6.1" fill="rgb(71,71,71)"/>
<rect x="307.35" y="160.30" width="6.1" height="6.1" fill="rgb(75,75,75)"/>
<rect x="313.20" y="160.30" width="6.1" height="6.1" fill="rgb(78,78,78)"/>
<rect x="319.05" y="160.30" width="6.1" height="6.1" fill="rgb(70,70,70)"/>
<rect x="324.90" y="160.30" width="6.1" height="6.1" fill="rgb(71,71,71)"/>
<rect x="330.75" y="160.30" width="6.1" height="6.1" fill="rgb(78,78,78)"/>
<rect x="336.60" y="160.30" width="6.1" height="6.1" fill="rgb(69,69,69)"/>
<rect x="342.45" y="160.30" width="6.1" height="6.1" fill="rgb(74,74,74)"/>
<rect x="348.30" y="160.30" width="6.1" height="6.1" fill="rgb(78,78,78)"/>
<rect x="196.20" y="166.15" width="6.1" height="6.1" fill="rgb(68,68,68)"/>
<rect x="202.05" y="166.15" width="6.1" height="6.1" fill="rgb(74,74,74)"/>
<rect x="207.90" y="166.15" width="6.1" height="6.1" fill="rgb(65,65,65)"/>
<rect x="213.75" y="166.15" width="6.1" height="6.1" fill="rgb(69,69,69)"/>
<rect x="219.60" y="166.15" width="6.1" height="6.1" fill="rgb(77,77,77)"/>
<rect x="225.45" y="166.15" width="6.1" height="6.1" fill="rgb(79,79,79)"/>
<rect x="231.30" y="166.15" width="6.1" height="6.1" fill="rgb(86,86,86)"/>
<rect x="237.15" y="166.15" width="6.1" height="6.1" fill="rgb(103,103,103)"/>
<rect x="243.00" y="166.15" width="6.1" height="6.1" fill="rgb(129,129,129)"/>
<rect x="248.85" y="166.15" width="6.1" height="6.1" fill="rgb(203,203,203)"/>
<rect x="254.70" y="166.15" width="6.1" height="6.1" fill="rgb(246,246,246)"/>
<rect x="260.55" y="166.15" width="6.1" height="6.1" fill="rgb(192,192,192)"/>
<rect x="266.40" y="166.15" width="6.1" height="6.1" fill="rgb(128,128,128)"/>
<rect x="272.25" y="166.15" width="6.1" height="6.1" fill="rgb(92,92,92)"/>
<rect x="278.10" y="166.15" width="6.1" height="6.1" fill="rgb(78,78,78)"/>
<rect x="283.95" y="166.15" width="6.1" height="6.1" fill="rgb(78,78,78)"/>
<rect x="289.80" y="166.15" width="6.1" height="6.1" fill="rgb(67,67,67)"/>
<rect x="295.65" y="166.15" width="6.1" height="6.1" fill="rgb(77,77,77)"/>
<rect x="301.50" y="166.15" width="6.1" height="6.1" fill="rgb(65,65,65)"/>
<rect x="307.35" y="166.15" width="6.1" height="6.1" fill="rgb(69,69,69)"/>
<rect x="313.20" y="166.15" width="6.1" height="6.1" fill="rgb(69,69,69)"/>
<rect x="319.05" y="166.15" width="6.1" height="6.1" fill="rgb(69,69,69)"/>
<rect x="324.90" y="166.15" width="6.1" height="6.1" fill="rgb(75,75,75)"/>
<rect x="330.75" y="166.15" width="6.1" height="6.1" fill="rgb(71,71,71)"/>
<rect x="336.60" y="166.15" width="6.1" height="6.1" fill="rgb(69,69,69)"/>
<rect x="342.45" y="166.15" width="6.1" height="6.1" fill="rgb(73,73,73)"/>
<rect x="348.30" y="166.15" width="6.1" height="6.1" fill="rgb(77,77,77)"/>
<rect x="196.20" y="172.00" width="6.1" height="6.1" fill="rgb(68,68,68)"/>
<rect x="202.05" y="172.00" width="6.1" height="6.1" fill="rgb(69,69,69)"/>
<rect x="207.90" y="172.00" width="6.1" height="6.1" fill="rgb(73,73,73)"/>
<rect x="213.75" y="172.00" width="6.1" height="6.1" fill="rgb(69,69,69)"/>
<rect x="219.60" y="172.00" width="6.1" height="6.1" fill="rgb(63,63,63)"/>
<rect x="225.45" y="172.00" width="6.1" height="6.1" fill="rgb(81,81,81)"/>
<rect x="231.30" y="172.00" width="6.1" height="6.1" fill="rgb(90,90,90)"/>
<rect x="237.15" y="172.00" width="6.1" height="6.1" fill="rgb(82,82,82)"/>
<rect x="243.00" y="172.00" width="6.1" height="6.1" fill="rgb(126,126,126)"/>
<rect x="248.85" y="172.00" width="6.1" height="6.1" fill="rgb(189,189,189)"/>
<rect x="254.70" y="172.00" width="6.1" height="6.1" fill="rgb(218,218,218)"/>
<rect x="260.55" y="172.00" width="6.1" height="6.1" fill="rgb(173,173,173)"/>
<rect x="266.40" y="172.00" width="6.1" height="6.1" fill="rgb(112,112,112)"/>
<rect x="272.25" y="172.00" width="6.1" height="6.1" fill="rgb(81,81,81)"/>
<rect x="278.10" y="172.00" width="6.1" height="6.1" fill="rgb(78,78,78)"/>
<rect x="283.95" y="172.00" width="6.1" height="6.1" fill="rgb(80,80,80)"/>
<rect x="289.80" y="172.00" width="6.1" height="6.1" fill="rgb(69,69,69)"/>
<rect x="295.65" y="172.00" width="6.1" height="6.1" fill="rgb(68,68,68)"/>
<rect x="301.50" y="172.00" width="6.1" height="6.1" fill="rgb(72,72,72)"/>
<rect x="307.35" y="172.00" width="6.1" height="6.1" fill="rgb(63,63,63)"/>
<rect x="313.20" y="172.00" width="6.1" height="6.1" fill="rgb(70,70,70)"/>
<rect x="319.05" y="172.00" width="6.1" height="6.1" fill="rgb(69,69,69)"/>
<rect x="324.90" y="172.00" width="6.1" height="6.1" fill="rgb(73,73,73)"/>
<rect x="330.75" y="172.00" width="6.1" height="6.1" fill="rgb(67,67,67)"/>
<rect x="336.60" y="172.00" width="6.1" height="6.1" fill="rgb(66,66,66)"/>
<rect x="342.45" y="172.00" width="6.1" height="6.1" fill="rgb(68,68,68)"/>
<rect x="348.30" y="172.00" width="6.1" height="6.1" fill="rgb(70,70,70)"/>
<rect x="196.20" y="177.85" width="6.1" height="6.1" fill="rgb(64,64,64)"/>
<rect x="202.05" y="177.85" width="6.1" height="6.1" fill="rgb(67,67,67)"/>
<rect x="207.90" y="177.85" width="6.1" height="6.1" fill="rgb(71,71,71)"/>
<rect x="213.75" y="177.85" width="6.1" height="6.1" fill="rgb(73,73,73)"/>
<rect x="219.60" y="177.85" width="6.1" height="6.1" fill="rgb(75,75,75)"/>
<rect x="225.45" y="177.85" width="6.1" height="6.1" fill="rgb(65,65,65)"/>
<rect x="231.30" y="177.85" width="6.1" height="6.1" fill="rgb(69,69,69)"/>
<rect x="237.15" y="177.85" width="6.1" height="6.1" fill="rgb(76,76,76)"/>
<rect x="243.00" y="177.85" width="6.1" height="6.1" fill="rgb(123,123,123)"/>
<rect x="248.85" y="177.85" width="6.1" height="6.1" fill="rgb(158,158,158)"/>
<rect x="254.70" y="177.85" width="6.1" height="6.1" fill="rgb(179,179,179)"/>
<rect x="260.55" y="177.85" width="6.1" height="6.1" fill="rgb(147,147,147)"/>
<rect x="266.40" y="177.85" width="6.1" height="6.1" fill="rgb(96,96,96)"/>
<rect x="272.25" y="177.85" width="6.1" height="6.1" fill="rgb(84,84,84)"/>
<rect x="278.10" y="177.85" width="6.1" height="6.1" fill="rgb(76,76,76)"/>
<rect x="283.95" y="177.85" width="6.1" height="6.1" fill="rgb(66,66,66)"/>
<rect x="289.80" y="177.85" width="6.1" height="6.1" fill="rgb(74,74,74)"/>
<rect x="295.65" y="177.85" width="6.1" height="6.1" fill="rgb(77,77,77)"/>
<rect x="301.50" y="177.85" width="6.1" height="6.1" fill="rgb(63,63,63)"/>
<rect x="307.35" y="177.85" width="6.1" height="6.1" fill="rgb(75,75,75)"/>
<rect x="313.20" y="177.85" width="6.1" height="6.1" fill="rgb(72,72,72)"/>
<rect x="319.05" y="177.85" width="6.1" height="6.1" fill="rgb(73,73,73)"/>
<rect x="324.90" y="177.85" width="6.1" height="6.1" fill="rgb(72,72,72)"/>
<rect x="330.75" y="177.85" width="6.1" height="6.1" fill="rgb(76,76,76)"/>
<rect x="336.60" y="177.85" width="6.1" height="6.1" fill="rgb(69,69,69)"/>
<rect x="342.45" y="177.85" width="6.1" height="6.1" fill="rgb(74,74,74)"/>
<rect x="348.30" y="177.85" width="6.1" height="6.1" fill="rgb(68,68,68)"/>
<rect x="196.20" y="183.70" width="6.1" height="6.1" fill="rgb(70,70,70)"/>
<rect x="202.05" y="183.70" width="6.1" height="6.1" fill="rgb(63,63,63)"/>
<rect x="207.90" y="183.70" width="6.1" height="6.1" fill="rgb(66,66,66)"/>
<rect x="213.75" y="183.70" width="6.1" height="6.1" fill="rgb(75,75,75)"/>
<rect x="219.60" y="183.70" width="6.1" height="6.1" fill="rgb(69,69,69)"/>
<rect x="225.45" y="183.70" width="6.1" height="6.1" fill="rgb(67,67,67)"/>
<rect x="231.30" y="183.70" width="6.1" height="6.1" fill="rgb(64,64,64)"/>
<rect x="237.15" y="183.70" width="6.1" height="6.1" fill="rgb(71,71,71)"/>
<rect x="243.00" y="183.70" width="6.1" height="6.1" fill="rgb(102,102,102)"/>
<rect x="248.85" y="183.70" width="6.1" height="6.1" fill="rgb(136,136,136)"/>
<rect x="254.70" y="183.70" width="6.1" height="6.1" fill="rgb(146,146,146)"/>
<rect x="260.55" y="183.70" width="6.1" height="6.1" fill="rgb(124,124,124)"/>
<rect x="266.40" y="183.70" width="6.1" height="6.1" fill="rgb(93,93,93)"/>
<rect x="272.25" y="183.70" width="6.1" height="6.1" fill="rgb(85,85,85)"/>
<rect x="278.10" y="183.70" width="6.1" height="6.1" fill="rgb(73,73,73)"/>
<rect x="283.95" y="183.70" width="6.1" height="6.1" fill="rgb(70,70,70)"/>
<rect x="289.80" y="183.70" width="6.1" height="6.1" fill="rgb(76,76,76)"/>
<rect x="295.65" y="183.70" width="6.1" height="6.1" fill="rgb(72,72,72)"/>
<rect x="301.50" y="183.70" width="6.1" height="6.1" fill="rgb(70,70,70)"/>
<rect x="307.35" y="183.70" width="6.1" height="6.1" fill="rgb(68,68,68)"/>
<rect x="313.20" y="183.70" width="6.1" height="6.1" fill="rgb(69,69,69)"/>
<rect x="319.05" y="183.70" width="6.1" height="6.1" fill="rgb(73,73,73)"/>
<rect x="324.90" y="183.70" width="6.1" height="6.1" fill="rgb(72,72,72)"/>
<rect x="330.75" y="183.70" width="6.1" height="6.1" fill="rgb(64,64,64)"/>
<rect x="336.60" y="183.70" width="6.1" height="6.1" fill="rgb(71,71,71)"/>
<rect x="342.45" y="183.70" width="6.1" height="6.1" fill="rgb(70,70,70)"/>
<rect x="348.30" y="183.70" width="6.1" height="6.1" fill="rgb(65,65,65)"/>
<rect x="196.20" y="189.55" width="6.1" height="6.1" fill="rgb(70,70,70)"/>
<rect x="202.05" y="189.55" width="6.1" height="6.1" fill="rgb(65,65,65)"/>
<rect x="207.90" y="189.55" width="6.1" height="6.1" fill="rgb(65,65,65)"/>
<rect x="213.75" y="189.55" width="6.1" height="6.1" fill="rgb(70,70,70)"/>
<rect x="219.60" y="189.55" width="6.1" height="6.1" fill="rgb(72,72,72)"/>
<rect x="225.45" y="189.55" width="6.1" height="6.1" fill="rgb(63,63,63)"/>
<rect x="231.30" y="189.55" width="6.1" height="6.1" fill="rgb(69,69,69)"/>
<rect x="237.15" y="189.55" width="6.1" height="6.1" fill="rgb(66,66,66)"/>
<rect x="243.00" y="189.55" width="6.1" height="6.1" fill="rgb(91,91,91)"/>
<rect x="248.85" y="189.55" width="6.1" height="6.1" fill="rgb(95,95,95)"/>
<rect x="254.70" y="189.55" width="6.1" height="6.1" fill="rgb(118,118,118)"/>
<rect x="260.55" y="189.55" width="6.1" height="6.1" fill="rgb(98,98,98)"/>
<rect x="266.40" y="189.55" width="6.1" height="6.1" fill="rgb(87,87,87)"/>
<rect x="272.25" y="189.55" width="6.1" height="6.1" fill="rgb(85,85,85)"/>
<rect x="278.10" y="189.55" width="6.1" height="6.1" fill="rgb(61,61,61)"/>
<rect x="283.95" y="189.55" width="6.1" height="6.1" fill="rgb(70,70,70)"/>
<rect x="289.80" y="189.55" width="6.1" height="6.1" fill="rgb(74,74,74)"/>
<rect x="295.65" y="189.55" width="6.1" height="6.1" fill="rgb(71,71,71)"/>
<rect x="301.50" y="189.55" width="6.1" height="6.1" fill="rgb(68,68,68)"/>
<rect x="307.35" y="189.55" width="6.1" height="6.1" fill="rgb(80,80,80)"/>
<rect x="313.20" y="189.55" width="6.1" height="6.1" fill="rgb(71,71,71)"/>
<rect x="319.05" y="189.55" width="6.1" height="6.1" fill="rgb(63,63,63)"/>
<rect x="324.90" y="189.55" width="6.1" height="6.1" fill="rgb(74,74,74)"/>
<rect x="330.75" y="189.55" width="6.1" height="6.1" fill="rgb(62,62,62)"/>
<rect x="336.60" y="189.55" width="6.1" height="6.1" fill="rgb(74,74,74)"/>
<rect x="342.45" y="189.55" width="6.1" height="6.1" fill="rgb(66,66,66)"/>
<rect x="348.30" y="189.55" width="6.1" height="6.1" fill="rgb(69,69,69)"/>
<rect x="196.20" y="195.40" width="6.1" height="6.1" fill="rgb(72,72,72)"/>
<rect x="202.05" y="195.40" width="6.1" height="6.1" fill="rgb(67,67,67)"/>
<rect x="207.90" y="195.40" width="6.1" height="6.1" fill="rgb(60,60,60)"/>
<rect x="213.75" y="195.40" width="6.1" height="6.1" fill="rgb(58,58,58)"/>
<rect x="219.60" y="195.40" width="6.1" height="6.1" fill="rgb(71,71,71)"/>
<rect x="225.45" y="195.40" width="6.1" height="6.1" fill="rgb(69,69,69)"/>
<rect x="231.30" y="195.40" width="6.1" height="6.1" fill="rgb(62,62,62)"/>
<rect x="237.15" y="195.40" width="6.1" height="6.1" fill="rgb(71,71,71)"/>
<rect x="243.00" y="195.40" width="6.1" height="6.1" fill="rgb(73,73,73)"/>
<rect x="248.85" y="195.40" width="6.1" height="6.1" fill="rgb(81,81,81)"/>
<rect x="254.70" y="195.40" width="6.1" height="6.1" fill="rgb(72,72,72)"/>
<rect x="260.55" y="195.40" width="6.1" height="6.1" fill="rgb(83,83,83)"/>
<rect x="266.40" y="195.40" width="6.1" height="6.1" fill="rgb(81,81,81)"/>
<rect x="272.25" y="195.40" width="6.1" height="6.1" fill="rgb(76,76,76)"/>
<rect x="278.10" y="195.40" width="6.1" height="6.1" fill="rgb(76,76,76)"/>
<rect x="283.95" y="195.40" width="6.1" height="6.1" fill="rgb(60,60,60)"/>
<rect x="289.80" y="195.40" width="6.1" height="6.1" fill="rgb(72,72,72)"/>
<rect x="295.65" y="195.40" width="6.1" height="6.1" fill="rgb(73,73,73)"/>
<rect x="301.50" y="195.40" width="6.1" height="6.1" fill="rgb(82,82,82)"/>
<rect x="307.35" y="195.40" width="6.1" height="6.1" fill="rgb(66,66,66)"/>
<rect x="313.20" y="195.40" width="6.1" height="6.1" fill="rgb(68,68,68)"/>
<rect x="319.05" y="195.40" width="6.1" height="6.1" fill="rgb(70,70,70)"/>
<rect x="324.90" y="195.40" width="6.1" height="6.1" fill="rgb(73,73,73)"/>
<rect x="330.75" y="195.40" width="6.1" height="6.1" fill="rgb(67,67,67)"/>
<rect x="336.60" y="195.40" width="6.1" height="6.1" fill="rgb(74,74,74)"/>
<rect x="342.45" y="195.40" width="6.1" height="6.1" fill="rgb(65,65,65)"/>
<rect x="348.30" y="195.40" width="6.1" height="6.1" fill="rgb(70,70,70)"/>
<rect x="196.20" y="201.25" width="6.1" height="6.1" fill="rgb(64,64,64)"/>
<rect x="202.05" y="201.25" width="6.1" height="6.1" fill="rgb(66,66,66)"/>
<rect x="207.90" y="201.25" width="6.1" height="6.1" fill="rgb(62,62,62)"/>
<rect x="213.75" y="201.25" width="6.1" height="6.1" fill="rgb(58,58,58)"/>
<rect x="219.60" y="201.25" width="6.1" height="6.1" fill="rgb(70,70,70)"/>
<rect x="225.45" y="201.25" width="6.1" height="6.1" fill="rgb(66,66,66)"/>
<rect x="231.30" y="201.25" width="6.1" height="6.1" fill="rgb(62,62,62)"/>
<rect x="237.15" y="201.25" width="6.1" height="6.1" fill="rgb(66,66,66)"/>
<rect x="243.00" y="201.25" width="6.1" height="6.1" fill="rgb(71,71,71)"/>
<rect x="248.85" y="201.25" width="6.1" height="6.1" fill="rgb(64,64,64)"/>
<rect x="254.70" y="201.25" width="6.1" height="6.1" fill="rgb(69,69,69)"/>
<rect x="260.55" y="201.25" width="6.1" height="6.1" fill="rgb(70,70,70)"/>
<rect x="266.40" y="201.25" width="6.1" height="6.1" fill="rgb(75,75,75)"/>
<rect x="272.25" y="201.25" width="6.1" height="6.1" fill="rgb(70,70,70)"/>
<rect x="278.10" y="201.25" width="6.1" height="6.1" fill="rgb(62,62,62)"/>
<rect x="283.95" y="201.25" width="6.1" height="6.1" fill="rgb(76,76,76)"/>
<rect x="289.80" y="201.25" width="6.1" height="6.1" fill="rgb(72,72,72)"/>
<rect x="295.65" y="201.25" width="6.1" height="6.1" fill="rgb(70,70,70)"/>
<rect x="301.50" y="201.25" width="6.1" height="6.1" fill="rgb(69,69,69)"/>
<rect x="307.35" y="201.25" width="6.1" height="6.1" fill="rgb(71,71,71)"/>
<rect x="313.20" y="201.25" width="6.1" height="6.1" fill="rgb(68,68,68)"/>
<rect x="319.05" y="201.25" width="6.1" height="6.1" fill="rgb(65,65,65)"/>
<rect x="324.90" y="201.25" width="6.1" height="6.1" fill="rgb(66,66,66)"/>
<rect x="330.75" y="201.25" width="6.1" height="6.1" fill="rgb(66,66,66)"/>
<rect x="336.60" y="201.25" width="6.1" height="6.1" fill="rgb(66,66,66)"/>
<rect x="342.45" y="201.25" width="6.1" height="6.1" fill="rgb(63,63,63)"/>
<rect x="348.30" y="201.25" width="6.1" height="6.1" fill="rgb(71,71,71)"/>
</g>
<line x1="98.5" y1="58" x2="273" y2="1.1" stroke="#eef6ee" stroke-width="1.6"/>
<line x1="97.5" y1="76.2" x2="270.5" y2="206" stroke="#eef6ee" stroke-width="1.6"/>
<path d="M279.6,42.2 L279.3,51.2 L279.1,60.2 L278.9,69.2 L278.6,78.2 L278.2,87.2 L277.4,95.8 L276.6,105 L275.7,114 L272,121.7 L267.6,130.2 L264.5,138.8 L261.8,147.3 L260,156.5 L257.3,164.6 L257.8,174" stroke="#3a3aff" stroke-width="0.6" fill="none"/>
<circle cx="279.6" cy="42.2" r="1.3" fill="#1515e0"/>
<circle cx="279.3" cy="51.2" r="1.3" fill="#1515e0"/>
<circle cx="279.1" cy="60.2" r="1.3" fill="#1515e0"/>
<circle cx="278.9" cy="69.2" r="1.3" fill="#1515e0"/>
<circle cx="278.6" cy="78.2" r="1.3" fill="#1515e0"/>
<circle cx="278.2" cy="87.2" r="1.3" fill="#1515e0"/>
<circle cx="277.4" cy="95.8" r="1.3" fill="#1515e0"/>
<circle cx="276.6" cy="105" r="1.3" fill="#1515e0"/>
<circle cx="275.7" cy="114" r="1.3" fill="#1515e0"/>
<circle cx="272" cy="121.7" r="1.3" fill="#1515e0"/>
<circle cx="267.6" cy="130.2" r="1.3" fill="#1515e0"/>
<circle cx="264.5" cy="138.8" r="1.3" fill="#1515e0"/>
<circle cx="261.8" cy="147.3" r="1.3" fill="#1515e0"/>
<circle cx="260" cy="156.5" r="1.3" fill="#1515e0"/>
<circle cx="257.3" cy="164.6" r="1.3" fill="#1515e0"/>
<circle cx="257.8" cy="174" r="1.3" fill="#1515e0"/>
<line x1="280.9" y1="124.5" x2="280.9" y2="19" stroke="#000" stroke-width="1.3"/>
<path d="M277.6,22.5 L280.9,15.3 L284.2,22.5" stroke="#000" stroke-width="1.3" fill="none"/>
<line x1="266.5" y1="130" x2="328" y2="43.8" stroke="#000" stroke-width="1.3"/>
<path d="M322.2,45.1 L328.8,42.7 L327.5,49.6" stroke="#000" stroke-width="1.3" fill="none"/>
<path d="M281.5,78.5 Q292,77 298.5,85" stroke="#000" stroke-width="1.2" stroke-dasharray="1.3,1.3" fill="none"/>
<text x="291.2" y="43.9" style="font-family:Liberation Serif,serif" font-size="13.5" font-style="italic" fill="#ececec" stroke="#ececec" stroke-width="0.3">s</text>
<path d="M302.2,38.8 H310.7 M302.2,41.6 H310.7" stroke="#ececec" stroke-width="1.05"/>
<text x="315.2" y="43.9" style="font-family:Liberation Serif,serif" font-size="12.7" fill="#ececec" stroke="#ececec" stroke-width="0.3">N</text>
<text x="292.0" y="72.5" style="font-family:Liberation Serif,serif" font-size="17.5" font-style="italic" fill="#141414" stroke="#141414" stroke-width="0.35">&#952;</text>
<text x="225.6" y="78.6" style="font-family:Liberation Serif,serif" font-size="13.5" font-style="italic" fill="#ececec" stroke="#ececec" stroke-width="0.3">t</text>
<text x="229.6" y="78.6" style="font-family:Liberation Serif,serif" font-size="13.5" fill="#ececec" stroke="#ececec" stroke-width="0.3">(</text>
<text x="236.3" y="78.6" style="font-family:Liberation Serif,serif" font-size="13.5" font-style="italic" fill="#ececec" stroke="#ececec" stroke-width="0.3">s</text>
<path d="M246.4,74.39999999999999 H254.5 M250.45,70.39999999999999 V78.39999999999999" stroke="#ececec" stroke-width="1.05"/>
<text x="257.2" y="78.6" style="font-family:Liberation Serif,serif" font-size="13.5" font-style="italic" fill="#ececec" stroke="#ececec" stroke-width="0.3">x</text>
<text x="265.3" y="78.6" style="font-family:Liberation Serif,serif" font-size="13.5" fill="#ececec" stroke="#ececec" stroke-width="0.3">)</text>
<text x="287.0" y="139.8" style="font-family:Liberation Serif,serif" font-size="13.5" font-style="italic" fill="#ececec" stroke="#ececec" stroke-width="0.3">t</text>
<text x="292.6" y="139.8" style="font-family:Liberation Serif,serif" font-size="13.5" fill="#ececec" stroke="#ececec" stroke-width="0.3">(</text>
<text x="296.8" y="139.8" style="font-family:Liberation Serif,serif" font-size="13.5" font-style="italic" fill="#ececec" stroke="#ececec" stroke-width="0.3">s</text>
<text x="303.6" y="139.8" style="font-family:Liberation Serif,serif" font-size="13.5" fill="#ececec" stroke="#ececec" stroke-width="0.3">)</text>
<text x="269.3" y="180.7" style="font-family:Liberation Serif,serif" font-size="13.5" font-style="italic" fill="#ececec" stroke="#ececec" stroke-width="0.3">s</text>
<path d="M279.9,175.6 H288.1 M279.9,178.8 H288.1" stroke="#ececec" stroke-width="1.05"/>
<text x="293.2" y="180.7" style="font-family:Liberation Serif,serif" font-size="12.5" fill="#ececec" stroke="#ececec" stroke-width="0.3">1</text>
<path d="M226.4,68.6 H231.8" stroke="#ececec" stroke-width="0.9"/>
<path d="M230.0,67.1 L232.20000000000002,68.6 L230.0,70.1 Z" fill="#ececec"/>
<path d="M287.6,129.5 H293.0" stroke="#ececec" stroke-width="0.9"/>
<path d="M291.20000000000005,128.0 L293.40000000000003,129.5 L291.20000000000005,131.0 Z" fill="#ececec"/>
<line x1="439.6" y1="17.3" x2="439.6" y2="185.3" stroke="#aaaaaa" stroke-width="1.1"/>
<line x1="439.6" y1="185.3" x2="683.3" y2="185.3" stroke="#aaaaaa" stroke-width="1.1"/>
<line x1="439.6" y1="29.10" x2="441.90000000000003" y2="29.10" stroke="#aaaaaa" stroke-width="0.8"/>
<text x="438.20" y="33.70" font-size="10.2" text-anchor="end" fill="#1e1e1e" stroke="#1e1e1e" stroke-width="0.15">0</text>
<line x1="439.6" y1="53.10" x2="441.90000000000003" y2="53.10" stroke="#aaaaaa" stroke-width="0.8"/>
<text x="438.20" y="57.70" font-size="10.2" text-anchor="end" fill="#1e1e1e" stroke="#1e1e1e" stroke-width="0.15">-0.2</text>
<line x1="439.6" y1="77.10" x2="441.90000000000003" y2="77.10" stroke="#aaaaaa" stroke-width="0.8"/>
<text x="438.20" y="81.70" font-size="10.2" text-anchor="end" fill="#1e1e1e" stroke="#1e1e1e" stroke-width="0.15">-0.4</text>
<line x1="439.6" y1="101.10" x2="441.90000000000003" y2="101.10" stroke="#aaaaaa" stroke-width="0.8"/>
<text x="438.20" y="105.70" font-size="10.2" text-anchor="end" fill="#1e1e1e" stroke="#1e1e1e" stroke-width="0.15">-0.6</text>
<line x1="439.6" y1="125.10" x2="441.90000000000003" y2="125.10" stroke="#aaaaaa" stroke-width="0.8"/>
<text x="438.20" y="129.70" font-size="10.2" text-anchor="end" fill="#1e1e1e" stroke="#1e1e1e" stroke-width="0.15">-0.8</text>
<line x1="439.6" y1="149.10" x2="441.90000000000003" y2="149.10" stroke="#aaaaaa" stroke-width="0.8"/>
<text x="438.20" y="153.70" font-size="10.2" text-anchor="end" fill="#1e1e1e" stroke="#1e1e1e" stroke-width="0.15">-1</text>
<line x1="439.6" y1="173.10" x2="441.90000000000003" y2="173.10" stroke="#aaaaaa" stroke-width="0.8"/>
<text x="438.20" y="177.70" font-size="10.2" text-anchor="end" fill="#1e1e1e" stroke="#1e1e1e" stroke-width="0.15">-1.2</text>
<line x1="460.88" y1="185.3" x2="460.88" y2="183.0" stroke="#aaaaaa" stroke-width="0.8"/>
<text x="460.88" y="196.00" font-size="10.2" text-anchor="middle" fill="#1e1e1e" stroke="#1e1e1e" stroke-width="0.15">0.5</text>
<line x1="501.18" y1="185.3" x2="501.18" y2="183.0" stroke="#aaaaaa" stroke-width="0.8"/>
<text x="501.18" y="196.00" font-size="10.2" text-anchor="middle" fill="#1e1e1e" stroke="#1e1e1e" stroke-width="0.15">1</text>
<line x1="541.48" y1="185.3" x2="541.48" y2="183.0" stroke="#aaaaaa" stroke-width="0.8"/>
<text x="541.48" y="196.00" font-size="10.2" text-anchor="middle" fill="#1e1e1e" stroke="#1e1e1e" stroke-width="0.15">1.5</text>
<line x1="581.77" y1="185.3" x2="581.77" y2="183.0" stroke="#aaaaaa" stroke-width="0.8"/>
<text x="581.77" y="196.00" font-size="10.2" text-anchor="middle" fill="#1e1e1e" stroke="#1e1e1e" stroke-width="0.15">2</text>
<line x1="622.08" y1="185.3" x2="622.08" y2="183.0" stroke="#aaaaaa" stroke-width="0.8"/>
<text x="622.08" y="196.00" font-size="10.2" text-anchor="middle" fill="#1e1e1e" stroke="#1e1e1e" stroke-width="0.15">2.5</text>
<line x1="662.38" y1="185.3" x2="662.38" y2="183.0" stroke="#aaaaaa" stroke-width="0.8"/>
<text x="662.38" y="196.00" font-size="10.2" text-anchor="middle" fill="#1e1e1e" stroke="#1e1e1e" stroke-width="0.15">3</text>
<line x1="470.50" y1="35.5" x2="470.50" y2="45.3" stroke="#9c9cee" stroke-width="1"/>
<line x1="468.10" y1="35.5" x2="472.90" y2="35.5" stroke="#9c9cee" stroke-width="1"/>
<line x1="468.10" y1="45.3" x2="472.90" y2="45.3" stroke="#9c9cee" stroke-width="1"/>
<line x1="491.50" y1="38.4" x2="491.50" y2="54.4" stroke="#9c9cee" stroke-width="1"/>
<line x1="489.10" y1="38.4" x2="493.90" y2="38.4" stroke="#9c9cee" stroke-width="1"/>
<line x1="489.10" y1="54.4" x2="493.90" y2="54.4" stroke="#9c9cee" stroke-width="1"/>
<line x1="511.50" y1="41.3" x2="511.50" y2="66.5" stroke="#9c9cee" stroke-width="1"/>
<line x1="509.10" y1="41.3" x2="513.90" y2="41.3" stroke="#9c9cee" stroke-width="1"/>
<line x1="509.10" y1="66.5" x2="513.90" y2="66.5" stroke="#9c9cee" stroke-width="1"/>
<line x1="531.50" y1="44.7" x2="531.50" y2="79.6" stroke="#9c9cee" stroke-width="1"/>
<line x1="529.10" y1="44.7" x2="533.90" y2="44.7" stroke="#9c9cee" stroke-width="1"/>
<line x1="529.10" y1="79.6" x2="533.90" y2="79.6" stroke="#9c9cee" stroke-width="1"/>
<line x1="551.50" y1="48.5" x2="551.50" y2="93.3" stroke="#9c9cee" stroke-width="1"/>
<line x1="549.10" y1="48.5" x2="553.90" y2="48.5" stroke="#9c9cee" stroke-width="1"/>
<line x1="549.10" y1="93.3" x2="553.90" y2="93.3" stroke="#9c9cee" stroke-width="1"/>
<line x1="571.50" y1="50.7" x2="571.50" y2="107.2" stroke="#9c9cee" stroke-width="1"/>
<line x1="569.10" y1="50.7" x2="573.90" y2="50.7" stroke="#9c9cee" stroke-width="1"/>
<line x1="569.10" y1="107.2" x2="573.90" y2="107.2" stroke="#9c9cee" stroke-width="1"/>
<line x1="591.50" y1="55.5" x2="591.50" y2="121.7" stroke="#9c9cee" stroke-width="1"/>
<line x1="589.10" y1="55.5" x2="593.90" y2="55.5" stroke="#9c9cee" stroke-width="1"/>
<line x1="589.10" y1="121.7" x2="593.90" y2="121.7" stroke="#9c9cee" stroke-width="1"/>
<line x1="612.50" y1="59.4" x2="612.50" y2="136.2" stroke="#9c9cee" stroke-width="1"/>
<line x1="610.10" y1="59.4" x2="614.90" y2="59.4" stroke="#9c9cee" stroke-width="1"/>
<line x1="610.10" y1="136.2" x2="614.90" y2="136.2" stroke="#9c9cee" stroke-width="1"/>
<line x1="632.50" y1="61.8" x2="632.50" y2="148" stroke="#9c9cee" stroke-width="1"/>
<line x1="630.10" y1="61.8" x2="634.90" y2="61.8" stroke="#9c9cee" stroke-width="1"/>
<line x1="630.10" y1="148" x2="634.90" y2="148" stroke="#9c9cee" stroke-width="1"/>
<line x1="652.50" y1="64.2" x2="652.50" y2="161.4" stroke="#9c9cee" stroke-width="1"/>
<line x1="650.10" y1="64.2" x2="654.90" y2="64.2" stroke="#9c9cee" stroke-width="1"/>
<line x1="650.10" y1="161.4" x2="654.90" y2="161.4" stroke="#9c9cee" stroke-width="1"/>
<line x1="672.50" y1="62.8" x2="672.50" y2="168" stroke="#9c9cee" stroke-width="1"/>
<line x1="670.10" y1="62.8" x2="674.90" y2="62.8" stroke="#9c9cee" stroke-width="1"/>
<line x1="670.10" y1="168" x2="674.90" y2="168" stroke="#9c9cee" stroke-width="1"/>
<line x1="440.1" y1="28.5" x2="683.3" y2="123.6" stroke="#2b6495" stroke-width="1.1"/>
<circle cx="450.80" cy="34.2" r="2.35" fill="#0a0ae6"/>
<circle cx="470.95" cy="40.6" r="2.35" fill="#0a0ae6"/>
<circle cx="491.10" cy="46.6" r="2.35" fill="#0a0ae6"/>
<circle cx="511.25" cy="54.2" r="2.35" fill="#0a0ae6"/>
<circle cx="531.40" cy="62.2" r="2.35" fill="#0a0ae6"/>
<circle cx="551.55" cy="71.2" r="2.35" fill="#0a0ae6"/>
<circle cx="571.70" cy="79.7" r="2.35" fill="#0a0ae6"/>
<circle cx="591.85" cy="88.4" r="2.35" fill="#0a0ae6"/>
<circle cx="612.00" cy="97.5" r="2.35" fill="#0a0ae6"/>
<circle cx="632.15" cy="105.3" r="2.35" fill="#0a0ae6"/>
<circle cx="652.30" cy="113.0" r="2.35" fill="#0a0ae6"/>
<circle cx="672.45" cy="116.0" r="2.35" fill="#0a0ae6"/>
<rect x="451.4" y="141.4" width="105.1" height="32.4" fill="#fff" stroke="#9a9a9a" stroke-width="0.9"/>
<circle cx="463.8" cy="148.9" r="2.2" fill="#0a0ae6"/>
<text x="474.00" y="152.20" font-size="9.9" text-anchor="start" fill="#1e1e1e" stroke="#1e1e1e" stroke-width="0.15">data</text>
<line x1="455.4" y1="163.8" x2="471.5" y2="163.8" stroke="#4f86bb" stroke-width="1"/>
<text x="474.0" y="166" font-size="10.2" fill="#1e1e1e" stroke="#1e1e1e" stroke-width="0.15">L<tspan font-size="8.6" dy="5.2">p</tspan><tspan dy="-5.2">=3.8± 0.2 μm</tspan></text>
<text x="562.3" y="210.3" font-size="15.45" text-anchor="middle" fill="#1e1e1e">Distance x (μm)</text>
<text transform="translate(415.7,100.75) rotate(-90)" x="0" y="0" font-size="15.4" text-anchor="middle" fill="#1e1e1e">Ln[&lt;t(s)t(s+x)&gt;]</text>
<text x="364.4" y="33.0" font-size="44" fill="#111">B</text>
<rect x="59.9" y="254.7" width="275.30" height="155.30" fill="none" stroke="#8a8a8a" stroke-width="1"/>
<line x1="59.9" y1="410.00" x2="62.699999999999996" y2="410.00" stroke="#8a8a8a" stroke-width="0.8"/>
<text x="58.30" y="414.10" font-size="10.2" text-anchor="end" fill="#1e1e1e" stroke="#1e1e1e" stroke-width="0.15">0</text>
<line x1="59.9" y1="387.87" x2="62.699999999999996" y2="387.87" stroke="#8a8a8a" stroke-width="0.8"/>
<text x="58.30" y="391.97" font-size="10.2" text-anchor="end" fill="#1e1e1e" stroke="#1e1e1e" stroke-width="0.15">2</text>
<line x1="59.9" y1="365.74" x2="62.699999999999996" y2="365.74" stroke="#8a8a8a" stroke-width="0.8"/>
<text x="58.30" y="369.84" font-size="10.2" text-anchor="end" fill="#1e1e1e" stroke="#1e1e1e" stroke-width="0.15">4</text>
<line x1="59.9" y1="343.62" x2="62.699999999999996" y2="343.62" stroke="#8a8a8a" stroke-width="0.8"/>
<text x="58.30" y="347.72" font-size="10.2" text-anchor="end" fill="#1e1e1e" stroke="#1e1e1e" stroke-width="0.15">6</text>
<line x1="59.9" y1="321.49" x2="62.699999999999996" y2="321.49" stroke="#8a8a8a" stroke-width="0.8"/>
<text x="58.30" y="325.59" font-size="10.2" text-anchor="end" fill="#1e1e1e" stroke="#1e1e1e" stroke-width="0.15">8</text>
<line x1="59.9" y1="299.36" x2="62.699999999999996" y2="299.36" stroke="#8a8a8a" stroke-width="0.8"/>
<text x="58.30" y="303.46" font-size="10.2" text-anchor="end" fill="#1e1e1e" stroke="#1e1e1e" stroke-width="0.15">10</text>
<line x1="59.9" y1="277.23" x2="62.699999999999996" y2="277.23" stroke="#8a8a8a" stroke-width="0.8"/>
<text x="58.30" y="281.33" font-size="10.2" text-anchor="end" fill="#1e1e1e" stroke="#1e1e1e" stroke-width="0.15">12</text>
<line x1="59.9" y1="255.10" x2="62.699999999999996" y2="255.10" stroke="#8a8a8a" stroke-width="0.8"/>
<text x="58.30" y="259.20" font-size="10.2" text-anchor="end" fill="#1e1e1e" stroke="#1e1e1e" stroke-width="0.15">14</text>
<line x1="59.90" y1="410.0" x2="59.90" y2="407.2" stroke="#8a8a8a" stroke-width="0.8"/>
<text x="59.90" y="421.00" font-size="10.2" text-anchor="middle" fill="#1e1e1e" stroke="#1e1e1e" stroke-width="0.15">0.2</text>
<line x1="99.20" y1="410.0" x2="99.20" y2="407.2" stroke="#8a8a8a" stroke-width="0.8"/>
<text x="99.20" y="421.00" font-size="10.2" text-anchor="middle" fill="#1e1e1e" stroke="#1e1e1e" stroke-width="0.15">0.3</text>
<line x1="138.50" y1="410.0" x2="138.50" y2="407.2" stroke="#8a8a8a" stroke-width="0.8"/>
<text x="138.50" y="421.00" font-size="10.2" text-anchor="middle" fill="#1e1e1e" stroke="#1e1e1e" stroke-width="0.15">0.4</text>
<line x1="177.80" y1="410.0" x2="177.80" y2="407.2" stroke="#8a8a8a" stroke-width="0.8"/>
<text x="177.80" y="421.00" font-size="10.2" text-anchor="middle" fill="#1e1e1e" stroke="#1e1e1e" stroke-width="0.15">0.5</text>
<line x1="217.10" y1="410.0" x2="217.10" y2="407.2" stroke="#8a8a8a" stroke-width="0.8"/>
<text x="217.10" y="421.00" font-size="10.2" text-anchor="middle" fill="#1e1e1e" stroke="#1e1e1e" stroke-width="0.15">0.6</text>
<line x1="256.40" y1="410.0" x2="256.40" y2="407.2" stroke="#8a8a8a" stroke-width="0.8"/>
<text x="256.40" y="421.00" font-size="10.2" text-anchor="middle" fill="#1e1e1e" stroke="#1e1e1e" stroke-width="0.15">0.7</text>
<line x1="295.70" y1="410.0" x2="295.70" y2="407.2" stroke="#8a8a8a" stroke-width="0.8"/>
<text x="295.70" y="421.00" font-size="10.2" text-anchor="middle" fill="#1e1e1e" stroke="#1e1e1e" stroke-width="0.15">0.8</text>
<line x1="335.00" y1="410.0" x2="335.00" y2="407.2" stroke="#8a8a8a" stroke-width="0.8"/>
<text x="335.00" y="421.00" font-size="10.2" text-anchor="middle" fill="#1e1e1e" stroke="#1e1e1e" stroke-width="0.15">0.9</text>
<line x1="79.40" y1="254.7" x2="79.40" y2="257.5" stroke="#8a8a8a" stroke-width="0.8"/>
<line x1="79.40" y1="410.0" x2="79.40" y2="407.2" stroke="#8a8a8a" stroke-width="0.8"/>
<text x="79.40" y="252.70" font-size="10.2" text-anchor="middle" fill="#1e1e1e" stroke="#1e1e1e" stroke-width="0.15">20</text>
<line x1="128.36" y1="254.7" x2="128.36" y2="257.5" stroke="#8a8a8a" stroke-width="0.8"/>
<line x1="128.36" y1="410.0" x2="128.36" y2="407.2" stroke="#8a8a8a" stroke-width="0.8"/>
<text x="128.36" y="252.70" font-size="10.2" text-anchor="middle" fill="#1e1e1e" stroke="#1e1e1e" stroke-width="0.15">30</text>
<line x1="177.32" y1="254.7" x2="177.32" y2="257.5" stroke="#8a8a8a" stroke-width="0.8"/>
<line x1="177.32" y1="410.0" x2="177.32" y2="407.2" stroke="#8a8a8a" stroke-width="0.8"/>
<text x="177.32" y="252.70" font-size="10.2" text-anchor="middle" fill="#1e1e1e" stroke="#1e1e1e" stroke-width="0.15">40</text>
<line x1="226.28" y1="254.7" x2="226.28" y2="257.5" stroke="#8a8a8a" stroke-width="0.8"/>
<line x1="226.28" y1="410.0" x2="226.28" y2="407.2" stroke="#8a8a8a" stroke-width="0.8"/>
<text x="226.28" y="252.70" font-size="10.2" text-anchor="middle" fill="#1e1e1e" stroke="#1e1e1e" stroke-width="0.15">50</text>
<line x1="275.24" y1="254.7" x2="275.24" y2="257.5" stroke="#8a8a8a" stroke-width="0.8"/>
<line x1="275.24" y1="410.0" x2="275.24" y2="407.2" stroke="#8a8a8a" stroke-width="0.8"/>
<text x="275.24" y="252.70" font-size="10.2" text-anchor="middle" fill="#1e1e1e" stroke="#1e1e1e" stroke-width="0.15">60</text>
<line x1="324.20" y1="254.7" x2="324.20" y2="257.5" stroke="#8a8a8a" stroke-width="0.8"/>
<line x1="324.20" y1="410.0" x2="324.20" y2="407.2" stroke="#8a8a8a" stroke-width="0.8"/>
<text x="324.20" y="252.70" font-size="10.2" text-anchor="middle" fill="#1e1e1e" stroke="#1e1e1e" stroke-width="0.15">70</text>
<line x1="60.4" y1="384" x2="335.2" y2="293.5" stroke="#2c5e94" stroke-width="1.1"/>
<rect x="105.40" y="353.90" width="3.4" height="3.4" fill="#22e022"/>
<rect x="113.10" y="361.60" width="3.4" height="3.4" fill="#22e022"/>
<rect x="113.10" y="365.90" width="3.4" height="3.4" fill="#22e022"/>
<rect x="117.20" y="353.00" width="3.4" height="3.4" fill="#22e022"/>
<rect x="121.10" y="350.40" width="3.4" height="3.4" fill="#22e022"/>
<rect x="121.10" y="377.20" width="3.4" height="3.4" fill="#22e022"/>
<rect x="125.10" y="341.70" width="3.4" height="3.4" fill="#22e022"/>
<rect x="128.90" y="356.10" width="3.4" height="3.4" fill="#22e022"/>
<rect x="128.90" y="360.50" width="3.4" height="3.4" fill="#22e022"/>
<rect x="136.80" y="338.40" width="3.4" height="3.4" fill="#22e022"/>
<rect x="136.80" y="349.40" width="3.4" height="3.4" fill="#22e022"/>
<rect x="136.80" y="354.90" width="3.4" height="3.4" fill="#22e022"/>
<rect x="136.80" y="365.00" width="3.4" height="3.4" fill="#22e022"/>
<rect x="148.70" y="358.30" width="3.4" height="3.4" fill="#22e022"/>
<rect x="148.70" y="366.10" width="3.4" height="3.4" fill="#22e022"/>
<rect x="152.60" y="367.00" width="3.4" height="3.4" fill="#22e022"/>
<rect x="152.60" y="372.70" width="3.4" height="3.4" fill="#22e022"/>
<rect x="156.60" y="341.70" width="3.4" height="3.4" fill="#22e022"/>
<rect x="156.60" y="373.80" width="3.4" height="3.4" fill="#22e022"/>
<rect x="200.10" y="350.30" width="3.4" height="3.4" fill="#22e022"/>
<circle cx="71.6" cy="388.8" r="1.9" fill="#d41010"/>
<circle cx="83.3" cy="372.3" r="1.9" fill="#d41010"/>
<circle cx="87.3" cy="367.8" r="1.9" fill="#d41010"/>
<circle cx="87.3" cy="382.4" r="1.9" fill="#d41010"/>
<circle cx="91.4" cy="358.9" r="1.9" fill="#d41010"/>
<circle cx="95.2" cy="366.5" r="1.9" fill="#d41010"/>
<circle cx="95.2" cy="371.1" r="1.9" fill="#d41010"/>
<circle cx="95.2" cy="373.5" r="1.9" fill="#d41010"/>
<circle cx="95.2" cy="387.8" r="1.9" fill="#d41010"/>
<circle cx="99.2" cy="369.8" r="1.9" fill="#d41010"/>
<circle cx="103.1" cy="366.5" r="1.9" fill="#d41010"/>
<circle cx="103.1" cy="374.4" r="1.9" fill="#d41010"/>
<circle cx="107.1" cy="365.5" r="1.9" fill="#d41010"/>
<circle cx="118.9" cy="360" r="1.9" fill="#d41010"/>
<circle cx="118.9" cy="371.2" r="1.9" fill="#d41010"/>
<circle cx="122.8" cy="363.3" r="1.9" fill="#d41010"/>
<circle cx="134.6" cy="353.2" r="1.9" fill="#d41010"/>
<circle cx="134.6" cy="362" r="1.9" fill="#d41010"/>
<circle cx="134.6" cy="363.3" r="1.9" fill="#d41010"/>
<circle cx="134.6" cy="374.4" r="1.9" fill="#d41010"/>
<circle cx="142.5" cy="349.1" r="1.9" fill="#d41010"/>
<circle cx="150.4" cy="350" r="1.9" fill="#d41010"/>
<circle cx="162.2" cy="347.9" r="1.9" fill="#d41010"/>
<circle cx="162.2" cy="352.4" r="1.9" fill="#d41010"/>
<circle cx="166.2" cy="353.3" r="1.9" fill="#d41010"/>
<circle cx="174.1" cy="355.6" r="1.9" fill="#d41010"/>
<circle cx="182" cy="364.2" r="1.9" fill="#d41010"/>
<circle cx="186" cy="356.7" r="1.9" fill="#d41010"/>
<circle cx="209.6" cy="324.7" r="1.9" fill="#d41010"/>
<circle cx="209.6" cy="345.6" r="1.9" fill="#d41010"/>
<circle cx="217.4" cy="349.6" r="1.9" fill="#d41010"/>
<circle cx="221.3" cy="324.7" r="1.9" fill="#d41010"/>
<circle cx="229.1" cy="309.2" r="1.9" fill="#d41010"/>
<circle cx="260.3" cy="332.4" r="1.9" fill="#d41010"/>
<circle cx="284.1" cy="270.2" r="1.9" fill="#d41010"/>
<circle cx="292.2" cy="323.5" r="1.9" fill="#d41010"/>
<circle cx="304" cy="299.2" r="1.9" fill="#d41010"/>
<circle cx="71.3" cy="272.5" r="1.5" fill="#d41010"/>
<text x="81.40" y="275.70" font-size="10.2" text-anchor="start" fill="#1e1e1e" stroke="#1e1e1e" stroke-width="0.15">Bare tubes</text>
<rect x="69.6" y="284.3" width="3.4" height="3.4" fill="#22e022"/>
<text x="81.40" y="289.00" font-size="10.2" text-anchor="start" fill="#1e1e1e" stroke="#1e1e1e" stroke-width="0.15">I-BAR coated tubes</text>
<line x1="63.5" y1="307.7" x2="78.9" y2="307.7" stroke="#92b2d2" stroke-width="1.5"/>
<text x="81.4" y="303.2" font-size="10.2" fill="#1e1e1e" stroke="#1e1e1e" stroke-width="0.15">L<tspan font-size="8.5" dy="4.5">p</tspan><tspan dy="-4.5">=2πκα I/k</tspan><tspan font-size="8.5" dy="4.5">B</tspan><tspan dy="-4.5">T</tspan></text>
<text x="81.40" y="321.20" font-size="10.2" text-anchor="start" fill="#1e1e1e" stroke="#1e1e1e" stroke-width="0.15">α=80.3±5.2</text>
<text x="157.40" y="231.90" font-size="15.2" text-anchor="start" fill="#1e1e1e" >R</text>
<text x="169.60" y="239.50" font-size="12.5" text-anchor="start" fill="#1e1e1e" >tube</text>
<text x="198.30" y="231.70" font-size="15" text-anchor="start" fill="#1e1e1e" >[nm]</text>
<text x="162.40" y="435.60" font-size="15.5" text-anchor="start" fill="#1e1e1e" >I</text>
<text x="168.30" y="443.70" font-size="12.7" text-anchor="start" fill="#1e1e1e" >Tube</text>
<text x="195.80" y="435.60" font-size="15.5" text-anchor="start" fill="#1e1e1e" >/I</text>
<text x="204.20" y="443.70" font-size="12.7" text-anchor="start" fill="#1e1e1e" >Mem</text>
<text transform="translate(33.8,357.4) rotate(-90)" x="0" y="0" font-size="15.2" fill="#1e1e1e" >L</text>
<text transform="translate(41.6,349.0) rotate(-90)" x="0" y="0" font-size="12.2" fill="#1e1e1e" >p</text>
<text transform="translate(34.2,337.6) rotate(-90)" x="0" y="0" font-size="15" fill="#1e1e1e" >[μm]</text>
<text x="-0.8" y="272.6" font-size="44" fill="#111">C</text>
<line x1="443.4" y1="260.3" x2="443.4" y2="408.0" stroke="#a0a0a0" stroke-width="1"/>
<line x1="443.4" y1="408.0" x2="672.6" y2="408.0" stroke="#a0a0a0" stroke-width="1"/>
<line x1="443.4" y1="383.30" x2="446.2" y2="383.30" stroke="#a0a0a0" stroke-width="0.8"/>
<text x="441.50" y="387.70" font-size="10.4" text-anchor="end" fill="#1e1e1e" stroke="#1e1e1e" stroke-width="0.15">30</text>
<line x1="443.4" y1="342.30" x2="446.2" y2="342.30" stroke="#a0a0a0" stroke-width="0.8"/>
<text x="441.50" y="346.70" font-size="10.4" text-anchor="end" fill="#1e1e1e" stroke="#1e1e1e" stroke-width="0.15">35</text>
<line x1="443.4" y1="301.30" x2="446.2" y2="301.30" stroke="#a0a0a0" stroke-width="0.8"/>
<text x="441.50" y="305.70" font-size="10.4" text-anchor="end" fill="#1e1e1e" stroke="#1e1e1e" stroke-width="0.15">40</text>
<line x1="443.4" y1="260.30" x2="446.2" y2="260.30" stroke="#a0a0a0" stroke-width="0.8"/>
<text x="441.50" y="264.70" font-size="10.4" text-anchor="end" fill="#1e1e1e" stroke="#1e1e1e" stroke-width="0.15">45</text>
<line x1="443.40" y1="408.0" x2="443.40" y2="405.2" stroke="#a0a0a0" stroke-width="0.8"/>
<text x="443.40" y="419.00" font-size="10.4" text-anchor="middle" fill="#1e1e1e" stroke="#1e1e1e" stroke-width="0.15">0</text>
<line x1="489.20" y1="408.0" x2="489.20" y2="405.2" stroke="#a0a0a0" stroke-width="0.8"/>
<text x="489.20" y="419.00" font-size="10.4" text-anchor="middle" fill="#1e1e1e" stroke="#1e1e1e" stroke-width="0.15">0.2</text>
<line x1="535.00" y1="408.0" x2="535.00" y2="405.2" stroke="#a0a0a0" stroke-width="0.8"/>
<text x="535.00" y="419.00" font-size="10.4" text-anchor="middle" fill="#1e1e1e" stroke="#1e1e1e" stroke-width="0.15">0.4</text>
<line x1="580.80" y1="408.0" x2="580.80" y2="405.2" stroke="#a0a0a0" stroke-width="0.8"/>
<text x="580.80" y="419.00" font-size="10.4" text-anchor="middle" fill="#1e1e1e" stroke="#1e1e1e" stroke-width="0.15">0.6</text>
<line x1="626.60" y1="408.0" x2="626.60" y2="405.2" stroke="#a0a0a0" stroke-width="0.8"/>
<text x="626.60" y="419.00" font-size="10.4" text-anchor="middle" fill="#1e1e1e" stroke="#1e1e1e" stroke-width="0.15">0.8</text>
<line x1="672.40" y1="408.0" x2="672.40" y2="405.2" stroke="#a0a0a0" stroke-width="0.8"/>
<text x="672.40" y="419.00" font-size="10.4" text-anchor="middle" fill="#1e1e1e" stroke="#1e1e1e" stroke-width="0.15">1</text>
<path d="M470.88,316.06 L525.84,357.31 L580.80,379.61 L635.76,400.19" stroke="#3de83d" stroke-width="1.3" fill="none"/>
<line x1="470.88" y1="292.12" x2="470.88" y2="339.84" stroke="#3de83d" stroke-width="1.2"/>
<line x1="467.58" y1="292.12" x2="474.18" y2="292.12" stroke="#3de83d" stroke-width="1.2"/>
<line x1="467.58" y1="339.84" x2="474.18" y2="339.84" stroke="#3de83d" stroke-width="1.2"/>
<rect x="469.08" y="314.26" width="3.6" height="3.6" fill="#3de83d"/>
<line x1="525.84" y1="347.22" x2="525.84" y2="367.72" stroke="#3de83d" stroke-width="1.2"/>
<line x1="522.54" y1="347.22" x2="529.14" y2="347.22" stroke="#3de83d" stroke-width="1.2"/>
<line x1="522.54" y1="367.72" x2="529.14" y2="367.72" stroke="#3de83d" stroke-width="1.2"/>
<rect x="524.04" y="355.51" width="3.6" height="3.6" fill="#3de83d"/>
<line x1="580.80" y1="370.18" x2="580.80" y2="388.22" stroke="#3de83d" stroke-width="1.2"/>
<line x1="577.50" y1="370.18" x2="584.10" y2="370.18" stroke="#3de83d" stroke-width="1.2"/>
<line x1="577.50" y1="388.22" x2="584.10" y2="388.22" stroke="#3de83d" stroke-width="1.2"/>
<rect x="579.00" y="377.81" width="3.6" height="3.6" fill="#3de83d"/>
<line x1="635.76" y1="393.30" x2="635.76" y2="407.08" stroke="#3de83d" stroke-width="1.2"/>
<line x1="632.46" y1="393.30" x2="639.06" y2="393.30" stroke="#3de83d" stroke-width="1.2"/>
<line x1="632.46" y1="407.08" x2="639.06" y2="407.08" stroke="#3de83d" stroke-width="1.2"/>
<rect x="633.96" y="398.39" width="3.6" height="3.6" fill="#3de83d"/>
<text x="557.8" y="434.6" font-size="16.2" text-anchor="middle" fill="#1e1e1e">Intensity</text>
<text transform="translate(416.7,370.0) rotate(-90)" x="0" y="0" font-size="14.6" fill="#1e1e1e" >R</text>
<text transform="translate(424.6,357.9) rotate(-90)" x="0" y="0" font-size="12.7" fill="#1e1e1e" >tube</text>
<text transform="translate(417.1,328.5) rotate(-90)" x="0" y="0" font-size="14.7" fill="#1e1e1e" >[nm]</text>
<text x="361.0" y="266.6" font-size="42.5" fill="#111">D</text>
<line x1="555.6" y1="252.3" x2="555.6" y2="337.9" stroke="#9a9a9a" stroke-width="1"/>
<line x1="555.6" y1="337.9" x2="679.4" y2="337.9" stroke="#9a9a9a" stroke-width="1"/>
<line x1="555.6" y1="337.90" x2="558.1" y2="337.90" stroke="#9a9a9a" stroke-width="0.8"/>
<text x="553.50" y="341.90" font-size="10.2" text-anchor="end" fill="#1e1e1e" stroke="#1e1e1e" stroke-width="0.15">0</text>
<line x1="555.6" y1="295.10" x2="558.1" y2="295.10" stroke="#9a9a9a" stroke-width="0.8"/>
<text x="553.50" y="299.10" font-size="10.2" text-anchor="end" fill="#1e1e1e" stroke="#1e1e1e" stroke-width="0.15">50</text>
<line x1="555.6" y1="252.30" x2="558.1" y2="252.30" stroke="#9a9a9a" stroke-width="0.8"/>
<text x="553.50" y="256.30" font-size="10.2" text-anchor="end" fill="#1e1e1e" stroke="#1e1e1e" stroke-width="0.15">100</text>
<line x1="555.60" y1="337.9" x2="555.60" y2="335.4" stroke="#9a9a9a" stroke-width="0.8"/>
<text x="555.60" y="348.70" font-size="10.2" text-anchor="middle" fill="#1e1e1e" stroke="#1e1e1e" stroke-width="0.15">0</text>
<line x1="617.35" y1="337.9" x2="617.35" y2="335.4" stroke="#9a9a9a" stroke-width="0.8"/>
<text x="617.35" y="348.70" font-size="10.2" text-anchor="middle" fill="#1e1e1e" stroke="#1e1e1e" stroke-width="0.15">0.5</text>
<line x1="679.10" y1="337.9" x2="679.10" y2="335.4" stroke="#9a9a9a" stroke-width="0.8"/>
<text x="679.10" y="348.70" font-size="10.2" text-anchor="middle" fill="#1e1e1e" stroke="#1e1e1e" stroke-width="0.15">1</text>
<path d="M570.5,282.9 L601.4,311 L632.7,327.1 L663.4,328.2" stroke="#1a1ad0" stroke-width="1.3" fill="none"/>
<line x1="570.5" y1="256.7" x2="570.5" y2="309.2" stroke="#1a1ad0" stroke-width="1.1"/>
<line x1="568.7" y1="256.7" x2="572.3" y2="256.7" stroke="#1a1ad0" stroke-width="1.1"/>
<line x1="568.7" y1="309.2" x2="572.3" y2="309.2" stroke="#1a1ad0" stroke-width="1.1"/>
<circle cx="570.5" cy="282.9" r="2.1" fill="#1a1ad0"/>
<line x1="601.4" y1="291.7" x2="601.4" y2="330.6" stroke="#1a1ad0" stroke-width="1.1"/>
<line x1="599.6" y1="291.7" x2="603.1999999999999" y2="291.7" stroke="#1a1ad0" stroke-width="1.1"/>
<line x1="599.6" y1="330.6" x2="603.1999999999999" y2="330.6" stroke="#1a1ad0" stroke-width="1.1"/>
<circle cx="601.4" cy="311" r="2.1" fill="#1a1ad0"/>
<line x1="632.7" y1="325" x2="632.7" y2="329.5" stroke="#1a1ad0" stroke-width="1.1"/>
<line x1="630.9000000000001" y1="325" x2="634.5" y2="325" stroke="#1a1ad0" stroke-width="1.1"/>
<line x1="630.9000000000001" y1="329.5" x2="634.5" y2="329.5" stroke="#1a1ad0" stroke-width="1.1"/>
<circle cx="632.7" cy="327.1" r="2.1" fill="#1a1ad0"/>
<line x1="663.4" y1="323.8" x2="663.4" y2="332.9" stroke="#1a1ad0" stroke-width="1.1"/>
<line x1="661.6" y1="323.8" x2="665.1999999999999" y2="323.8" stroke="#1a1ad0" stroke-width="1.1"/>
<line x1="661.6" y1="332.9" x2="665.1999999999999" y2="332.9" stroke="#1a1ad0" stroke-width="1.1"/>
<circle cx="663.4" cy="328.2" r="2.1" fill="#1a1ad0"/>
<text x="617.1" y="360.8" font-size="12.8" text-anchor="middle" fill="#1e1e1e">Intensity</text>
<text transform="translate(524.4,331.9) rotate(-90)" x="0" y="0" font-size="12.5" fill="#1e1e1e" >FRAP</text>
<text transform="translate(531.3,296.6) rotate(-90)" x="0" y="0" font-size="8.8" fill="#1e1e1e" >15s</text>
<text transform="translate(524.8,278.0) rotate(-90)" x="0" y="0" font-size="12" fill="#1e1e1e" >[%]</text>
</svg></body></html>
